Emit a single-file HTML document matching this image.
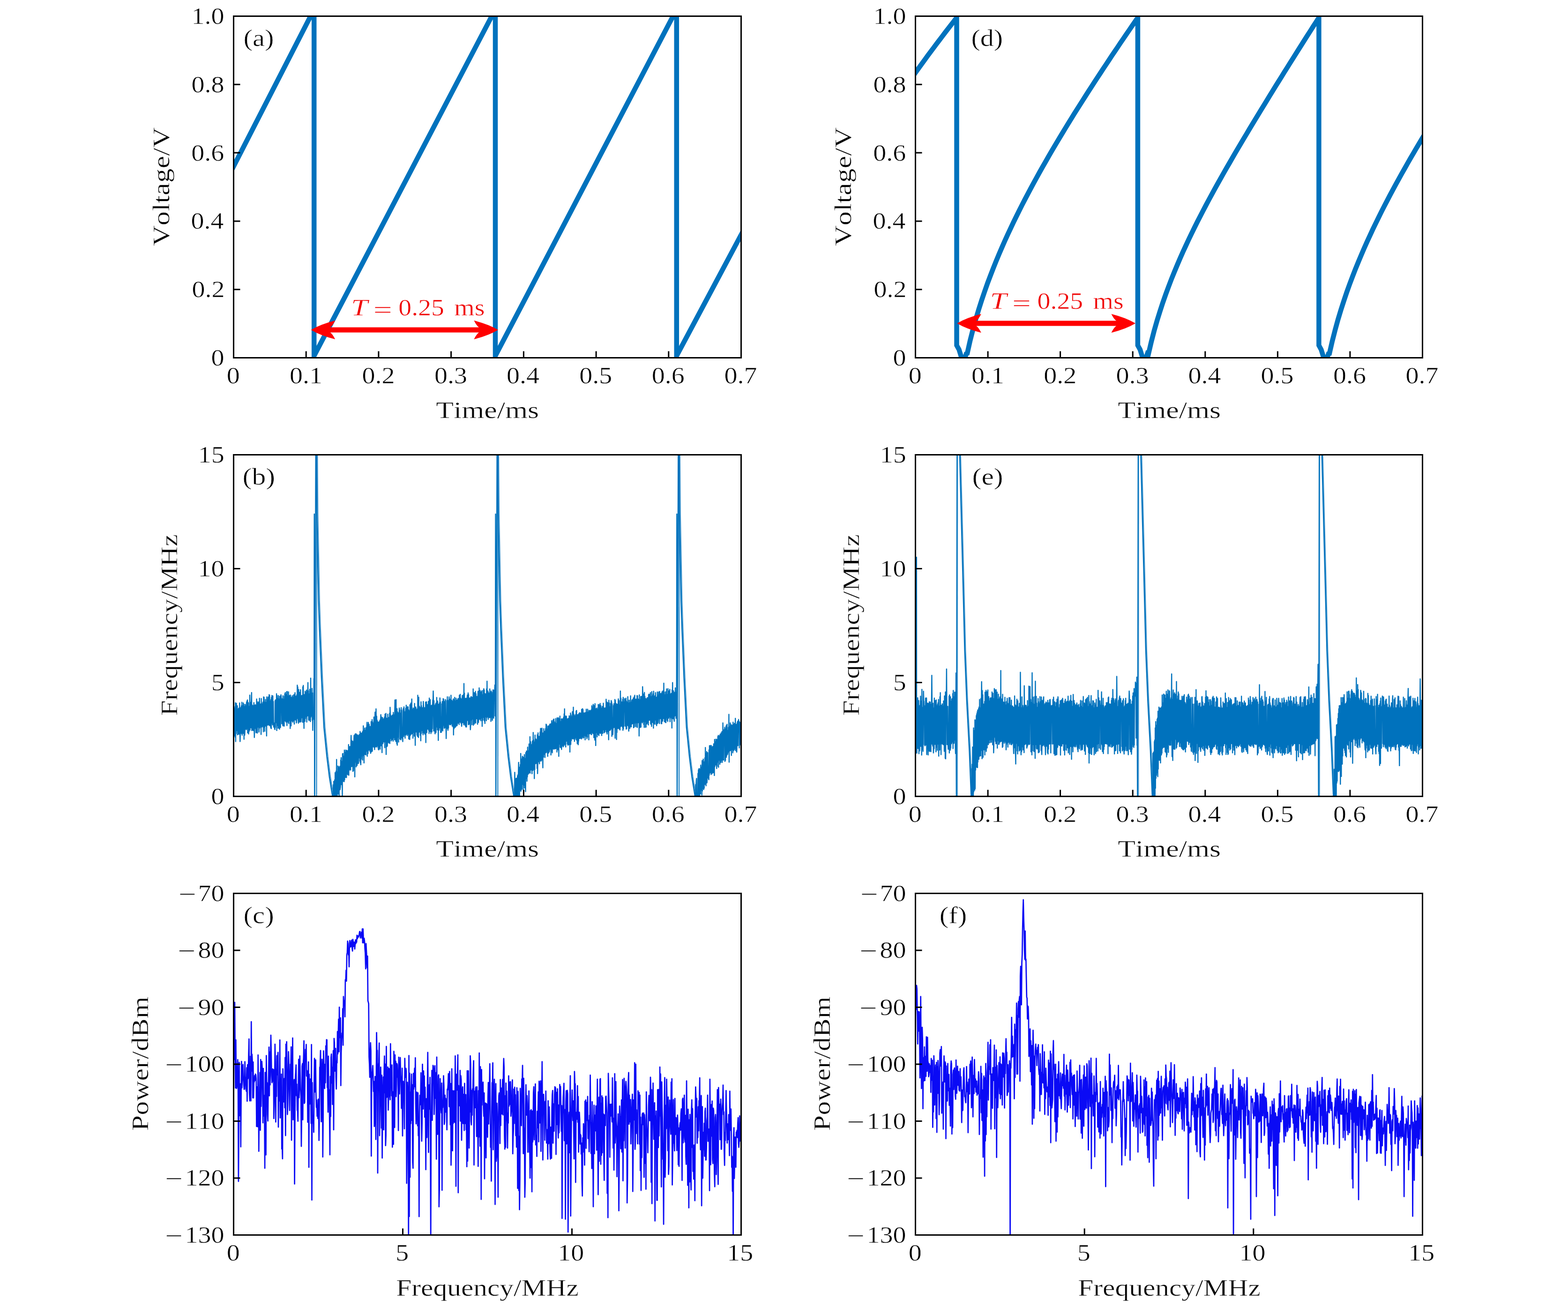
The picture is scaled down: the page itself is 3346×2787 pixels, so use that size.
<!DOCTYPE html><html><head><meta charset="utf-8"><title>Figure</title><style>
html,body{margin:0;padding:0;background:#fff;overflow:hidden;width:3346px;height:2787px;}
svg{display:block;}
text{font-family:'Liberation Serif', 'DejaVu Serif', serif;font-kerning:none;stroke:#fff;stroke-width:0.6px;paint-order:fill stroke;}
</style></head><body>
<svg width="3346" height="2787" viewBox="0 0 3346 2787">
<rect width="3346" height="2787" fill="#fff"/>
<defs><clipPath id="c00"><rect x="498.5" y="34.5" width="1083" height="729"/></clipPath><clipPath id="c01"><rect x="498.5" y="970.5" width="1083" height="729"/></clipPath><clipPath id="c02"><rect x="498.5" y="1906.5" width="1083" height="729"/></clipPath><clipPath id="c10"><rect x="1953.5" y="34.5" width="1082" height="729"/></clipPath><clipPath id="c11"><rect x="1953.5" y="970.5" width="1082" height="729"/></clipPath><clipPath id="c12"><rect x="1953.5" y="1906.5" width="1082" height="729"/></clipPath></defs>
<polyline points="483,385.2 670.2,19.9 670.2,-2 670.2,759.4 670.2,759.4 1057,19.9 1057,-2 1057,759.4 1057,759.4 1443.8,19.9 1443.8,-2 1443.8,759.4 1443.8,759.4 1612.4,443.2" fill="none" stroke="#0072BD" stroke-width="10.5" stroke-linejoin="miter" stroke-miterlimit="20" clip-path="url(#c00)"/>
<polyline points="1924.3,197.1 1930.5,188 1936.7,179.1 1942.8,170.2 1949,161.4 1955.2,152.7 1961.3,144.1 1967.5,135.6 1973.7,127.1 1979.8,118.7 1986,110.3 1992.2,102.1 1998.3,93.8 2004.5,85.7 2010.7,77.6 2016.8,69.5 2023,61.5 2029.2,53.5 2035.3,45.6 2041.5,37.7 2041.5,-2 2041.5,737 2046.5,746 2055.4,775 2062,755 2064.1,753.9 2070.2,726.7 2076.4,702.4 2082.6,680.2 2088.7,659.7 2094.9,640.4 2101.1,622.1 2107.2,604.8 2113.4,588.3 2119.6,572.4 2125.7,557.1 2131.9,542.3 2138.1,527.9 2144.2,514 2150.4,500.4 2156.6,487.2 2162.7,474.2 2168.9,461.6 2175.1,449.2 2181.2,437 2187.4,425 2193.6,413.3 2199.7,401.7 2205.9,390.3 2212.1,379 2218.2,367.9 2224.4,356.9 2230.6,346.1 2236.7,335.3 2242.9,324.7 2249.1,314.2 2255.2,303.8 2261.4,293.5 2267.6,283.2 2273.7,273.1 2279.9,263 2286.1,253 2292.2,243.1 2298.4,233.3 2304.6,223.5 2310.8,213.7 2316.9,204.1 2323.1,194.4 2329.3,184.9 2335.4,175.4 2341.6,165.9 2347.8,156.5 2353.9,147.1 2360.1,137.8 2366.3,128.5 2372.4,119.2 2378.6,110 2384.8,100.9 2390.9,91.7 2397.1,82.6 2403.3,73.6 2409.4,64.6 2415.6,55.6 2421.8,46.6 2427.9,37.7 2427.9,-2 2427.9,737 2432.9,746 2441.8,775 2448.4,755 2450.5,756.3 2456.7,729.8 2462.8,706.1 2469,684.5 2475.2,664.6 2481.3,645.9 2487.5,628.3 2493.7,611.5 2499.8,595.5 2506,580.2 2512.2,565.4 2518.3,551.1 2524.5,537.2 2530.7,523.7 2536.8,510.6 2543,497.7 2549.2,485.2 2555.3,472.9 2561.5,460.8 2567.7,448.9 2573.8,437.2 2580,425.6 2586.2,414.3 2592.3,403 2598.5,391.9 2604.7,380.9 2610.8,370 2617,359.2 2623.2,348.5 2629.3,337.8 2635.5,327.2 2641.7,316.7 2647.8,306.3 2654,295.9 2660.2,285.6 2666.3,275.3 2672.5,265 2678.7,254.8 2684.8,244.7 2691,234.5 2697.2,224.4 2703.3,214.4 2709.5,204.3 2715.7,194.3 2721.8,184.3 2728,174.4 2734.2,164.4 2740.3,154.5 2746.5,144.7 2752.7,134.8 2758.9,125 2765,115.2 2771.2,105.4 2777.4,95.6 2783.5,85.9 2789.7,76.2 2795.9,66.5 2802,56.9 2808.2,47.3 2814.4,37.7 2814.4,-2 2814.4,737 2819.3,746 2828.3,775 2834.9,755 2836.9,754.4 2843.1,727.4 2849.3,703.3 2855.4,681.2 2861.6,660.7 2867.8,641.6 2873.9,623.5 2880.1,606.3 2886.3,589.9 2892.4,574.1 2898.6,558.9 2904.8,544.2 2910.9,530 2917.1,516.1 2923.3,502.7 2929.4,489.5 2935.6,476.7 2941.8,464.1 2947.9,451.7 2954.1,439.6 2960.3,427.7 2966.4,416 2972.6,404.5 2978.8,393.1 2984.9,381.9 2991.1,370.8 2997.3,359.8 3003.4,349 3009.6,338.2 3015.8,327.6 3021.9,317.1 3028.1,306.7 3034.3,296.3 3040.4,286.1 3046.6,275.9 3052.8,265.8 3058.9,255.7 3065.1,245.7" fill="none" stroke="#0072BD" stroke-width="10.5" stroke-linejoin="miter" stroke-miterlimit="20" clip-path="url(#c10)"/>
<polyline points="498.5,1508.9 499,1567.6 499.5,1514.1 500,1563.4 500.5,1512.2 501,1570.3 501.5,1508.1 501.9,1573 502.4,1499.8 502.9,1582.4 503.4,1512.1 503.9,1565.3 504.4,1500.9 504.9,1513.3 505.4,1513.1 505.9,1559.1 506.4,1506.1 506.9,1568 507.4,1513.2 507.9,1558.6 508.3,1567 508.8,1562.7 509.3,1511.7 509.8,1563.2 510.3,1510.7 510.8,1566.5 511.3,1500.2 511.8,1557.7 512.3,1582.4 512.8,1566.3 513.3,1510.7 513.8,1564.6 514.3,1509.4 514.8,1558.3 515.2,1506.3 515.7,1565.5 516.2,1498.6 516.7,1568.7 517.2,1510.7 517.7,1563.8 518.2,1505.9 518.7,1564.9 519.2,1500.2 519.7,1556.1 520.2,1502.9 520.7,1577.6 521.2,1507.7 521.6,1555.5 522.1,1568.9 522.6,1560.5 523.1,1503.1 523.6,1506.7 524.1,1507.7 524.6,1555.6 525.1,1508.3 525.6,1557 526.1,1498.5 526.6,1554.6 527.1,1495.7 527.6,1554.1 528,1493.7 528.5,1563.9 529,1498.4 529.5,1563 530,1499.9 530.5,1566.3 531,1507.5 531.5,1561.3 532,1507.6 532.5,1555 533,1483.4 533.5,1557.8 534,1503.4 534.5,1552.6 534.9,1499 535.4,1553 535.9,1502.8 536.4,1492.2 536.9,1478 537.4,1558.9 537.9,1504.2 538.4,1557.9 538.9,1506 539.4,1551.7 539.9,1551.7 540.4,1558.9 540.9,1505.1 541.3,1551.7 541.8,1499.4 542.3,1552.6 542.8,1573.7 543.3,1551.1 543.8,1504.9 544.3,1554.4 544.8,1504 545.3,1550.7 545.8,1504.6 546.3,1563.6 546.8,1554.9 547.3,1556.8 547.7,1491.7 548.2,1563.6 548.7,1497.2 549.2,1564.2 549.7,1500 550.2,1551.7 550.7,1503.2 551.2,1551.6 551.7,1498 552.2,1550.6 552.7,1562.2 553.2,1548.8 553.7,1490.3 554.2,1553.3 554.6,1550.2 555.1,1549 555.6,1502.4 556.1,1548.2 556.6,1502.4 557.1,1567.3 557.6,1490.7 558.1,1547.8 558.6,1502 559.1,1551.2 559.6,1549 560.1,1549.2 560.6,1501.5 561,1498.5 561.5,1499.1 562,1561.6 562.5,1487.2 563,1549 563.5,1488 564,1551.5 564.5,1500.3 565,1560.6 565.5,1498.2 566,1549.6 566.5,1492.8 567,1546.5 567.4,1549.2 567.9,1546.4 568.4,1499 568.9,1570.4 569.4,1487.1 569.9,1493.2 570.4,1497.2 570.9,1497.7 571.4,1547.4 571.9,1545 572.4,1487.4 572.9,1546.6 573.4,1495.3 573.9,1544.5 574.3,1482.5 574.8,1548.1 575.3,1483.5 575.8,1544.1 576.3,1497.3 576.8,1549.4 577.3,1495.6 577.8,1553.3 578.3,1492.6 578.8,1554.7 579.3,1488.1 579.8,1543.1 580.3,1484.1 580.7,1543.2 581.2,1495.5 581.7,1547.1 582.2,1485.2 582.7,1543.9 583.2,1496.9 583.7,1542.5 584.2,1551.8 584.7,1542.7 585.2,1548.8 585.7,1549 586.2,1555.7 586.7,1556.8 587.1,1495.2 587.6,1552.3 588.1,1493.5 588.6,1542 589.1,1493.9 589.6,1541.7 590.1,1480.4 590.6,1558.9 591.1,1484.3 591.6,1548.2 592.1,1490.3 592.6,1541.2 593.1,1493.3 593.6,1553.9 594,1484.5 594.5,1540.3 595,1491.6 595.5,1553.5 596,1494.3 596.5,1556 597,1486 597.5,1492.9 598,1491.3 598.5,1552.4 599,1488 599.5,1482.6 600,1486.1 600.4,1492.6 600.9,1492.9 601.4,1544.4 601.9,1491.5 602.4,1492.9 602.9,1492.8 603.4,1548.2 603.9,1484.8 604.4,1549.1 604.9,1492.5 605.4,1543.3 605.9,1492 606.4,1549.6 606.8,1486.2 607.3,1492 607.8,1480.5 608.3,1538.2 608.8,1478 609.3,1538.8 609.8,1482.3 610.3,1540.8 610.8,1487.9 611.3,1538.1 611.8,1476.1 612.3,1548.2 612.8,1475.8 613.3,1536.4 613.7,1485.1 614.2,1539.9 614.7,1489.2 615.2,1541.7 615.7,1476.4 616.2,1544.1 616.7,1483.8 617.2,1537.5 617.7,1484.8 618.2,1535.3 618.7,1488.7 619.2,1554.5 619.7,1483.1 620.1,1535.2 620.6,1487.5 621.1,1549 621.6,1488.4 622.1,1534.9 622.6,1538.3 623.1,1536.4 623.6,1484.6 624.1,1534.2 624.6,1541 625.1,1536.4 625.6,1488.2 626.1,1537.9 626.5,1482.9 627,1535 627.5,1534.3 628,1545.2 628.5,1481.6 629,1534.6 629.5,1478.3 630,1535.4 630.5,1536.3 631,1533.1 631.5,1485.8 632,1534.6 632.5,1542.7 633,1533.1 633.4,1482.7 633.9,1533.1 634.4,1462.1 634.9,1532.3 635.4,1466 635.9,1532.8 636.4,1539.3 636.9,1543.3 637.4,1471.4 637.9,1538.6 638.4,1485.8 638.9,1539.5 639.4,1477.5 639.8,1541.1 640.3,1539.1 640.8,1531.1 641.3,1472 641.8,1531.6 642.3,1540.4 642.8,1530.6 643.3,1484.7 643.8,1531.4 644.3,1484.5 644.8,1531.5 645.3,1484 645.8,1541.3 646.2,1465.6 646.7,1541.1 647.2,1462.8 647.7,1530.3 648.2,1529.3 648.7,1554.2 649.2,1482.5 649.7,1530.2 650.2,1482.2 650.7,1539.4 651.2,1475.3 651.7,1533.6 652.2,1480.3 652.7,1529.3 653.1,1477.5 653.6,1529.3 654.1,1472.7 654.6,1540.8 655.1,1478 655.6,1527.9 656.1,1475.1 656.6,1480.6 657.1,1456.7 657.6,1527.5 658.1,1474.3 658.6,1535.9 659.1,1481.6 659.5,1537.6 660,1480.7 660.5,1536.2 661,1470.9 661.5,1531.3 662,1475.6 662.5,1539.7 663,1447.1 663.5,1530.3 664,1478.6 664.5,1526.1 665,1480.3 665.5,1527.7 665.9,1469.2 666.4,1536.7 666.9,1478.6 667.4,1558.5 667.9,1530.6 668.4,1535.8 668.9,1534.2 669.4,1526.6 669.9,1448.2 670.2,1502.2 670.7,1096.9 671.3,1748.1 674.6,727.5 674.9,727.5 675.1,970.5 676.1,1096.9 679.6,1281.5 681.6,1339.9 685.9,1445.8 691.2,1551.8 697.5,1614.9 702.8,1657.7 709.2,1697.6 710.6,1714.1 710.8,1727.4 711.3,1674.6 711.8,1720 712.2,1667.4 712.7,1721.2 713.2,1667.8 713.7,1722.1 714.2,1664.1 714.7,1724.1 715.2,1648.8 715.7,1708.5 716.2,1659.6 716.7,1709.2 717.2,1645.4 717.7,1704.9 718.2,1620.8 718.6,1701.1 719.1,1646.9 719.6,1697.9 720.1,1648.5 720.6,1693.5 721.1,1634.6 721.6,1693.9 722.1,1636 722.6,1694.8 723.1,1640.6 723.6,1704.8 724.1,1638.3 724.6,1682.9 725,1635.5 725.5,1685.4 726,1681.7 726.5,1679 727,1622.2 727.5,1629.4 728,1617 728.5,1674.2 729,1626.6 729.5,1672.3 730,1624.6 730.5,1698.9 731,1608.6 731.5,1667.8 731.9,1608 732.4,1666.9 732.9,1618.9 733.4,1616.1 733.9,1613.5 734.4,1668 734.9,1600.7 735.4,1664 735.9,1607.7 736.4,1605.2 736.9,1610.9 737.4,1658.9 737.9,1600.8 738.3,1654.8 738.8,1607.5 739.3,1659.2 739.8,1601.4 740.3,1604.6 740.8,1651.7 741.3,1649.7 741.8,1602.4 742.3,1653.2 742.8,1601.2 743.3,1647.5 743.8,1589 744.3,1654.3 744.7,1597.4 745.2,1643.9 745.7,1595.4 746.2,1593.3 746.7,1594.4 747.2,1642 747.7,1592.9 748.2,1643.3 748.7,1589.8 749.2,1569.5 749.7,1590.6 750.2,1635.7 750.7,1580.8 751.2,1635.2 751.6,1587.8 752.1,1634.8 752.6,1581.7 753.1,1646 753.6,1584.6 754.1,1644.9 754.6,1632.1 755.1,1583.4 755.6,1569.5 756.1,1627.9 756.6,1581.7 757.1,1657.8 757.6,1566.6 758,1625.5 758.5,1578.9 759,1626.4 759.5,1565.6 760,1636.4 760.5,1568.1 761,1624.4 761.5,1567.6 762,1633.5 762.5,1568.3 763,1629.8 763.5,1621 764,1618.8 764.4,1569.7 764.9,1629 765.4,1571.3 765.9,1617 766.4,1567.7 766.9,1617.2 767.4,1569.8 767.9,1624.4 768.4,1560.9 768.9,1628 769.4,1567.9 769.9,1631.9 770.4,1564.2 770.9,1620.1 771.3,1612.6 771.8,1611.3 772.3,1564.9 772.8,1612.4 773.3,1562.4 773.8,1622 774.3,1560.3 774.8,1611.6 775.3,1549 775.8,1612 776.3,1561.7 776.8,1628.1 777.3,1558 777.7,1606.8 778.2,1553.8 778.7,1609.8 779.2,1558.1 779.7,1604.4 780.2,1605.4 780.7,1611 781.2,1553 781.7,1603.1 782.2,1557 782.7,1550.6 783.2,1541.5 783.7,1613.8 784.1,1546.5 784.6,1600.7 785.1,1608.4 785.6,1601.1 786.1,1541.7 786.6,1601 787.1,1551.3 787.6,1545.7 788.1,1552.7 788.6,1600.5 789.1,1551.7 789.6,1603.5 790.1,1550.4 790.6,1599 791,1607.6 791.5,1600.3 792,1540 792.5,1604.3 793,1548.6 793.5,1603.2 794,1535.8 794.5,1603.1 795,1540.4 795.5,1594 796,1543.8 796.5,1593.1 797,1543.3 797.4,1592.5 797.9,1530.2 798.4,1595.1 798.9,1543.5 799.4,1599.5 799.9,1540.6 800.4,1519.8 800.9,1538.6 801.4,1594 801.9,1542.2 802.4,1512.8 802.9,1537.6 803.4,1592.5 803.8,1528.5 804.3,1594.3 804.8,1537 805.3,1591.2 805.8,1540.1 806.3,1590.4 806.8,1540.7 807.3,1599.1 807.8,1541.2 808.3,1600.2 808.8,1593.7 809.3,1586.6 809.8,1540.1 810.3,1538.5 810.7,1537.4 811.2,1598.5 811.7,1535 812.2,1535 812.7,1525.1 813.2,1591.3 813.7,1529.6 814.2,1584.7 814.7,1533.4 815.2,1606.1 815.7,1537 816.2,1531.2 816.7,1536.6 817.1,1586.8 817.6,1534.6 818.1,1582.6 818.6,1536.3 819.1,1583.1 819.6,1533 820.1,1583.4 820.6,1530 821.1,1595.4 821.6,1524.1 822.1,1582.8 822.6,1526.7 823.1,1580.6 823.5,1522.5 824,1609.9 824.5,1532.3 825,1589.1 825.5,1593.4 826,1533.3 826.5,1592.2 827,1578.4 827.5,1524.1 828,1580 828.5,1531.5 829,1582.5 829.5,1585.4 830,1579.2 830.4,1530.7 830.9,1577.1 831.4,1522.2 831.9,1586.5 832.4,1509.4 832.9,1526.8 833.4,1525.1 833.9,1575.9 834.4,1528.8 834.9,1580.9 835.4,1527.9 835.9,1575.3 836.4,1529.4 836.8,1578.4 837.3,1526 837.8,1575.3 838.3,1528.7 838.8,1581.5 839.3,1520.5 839.8,1573.8 840.3,1527.3 840.8,1573.7 841.3,1525.2 841.8,1578.5 842.3,1521.3 842.8,1493.7 843.2,1522.6 843.7,1579.1 844.2,1522.9 844.7,1582.3 845.2,1493.1 845.7,1577 846.2,1524.4 846.7,1587.1 847.2,1512.4 847.7,1590.2 848.2,1518.9 848.7,1573.4 849.2,1524.4 849.7,1572.2 850.1,1521.4 850.6,1583.6 851.1,1524 851.6,1523.2 852.1,1511 852.6,1521 853.1,1514.9 853.6,1577.2 854.1,1521.8 854.6,1569.3 855.1,1523.4 855.6,1578.7 856.1,1510.3 856.5,1569.7 857,1515.2 857.5,1572.1 858,1575.1 858.5,1570.4 859,1576.4 859.5,1582.6 860,1518.2 860.5,1512.1 861,1520.8 861.5,1571.5 862,1508.5 862.5,1520.2 862.9,1521 863.4,1567.9 863.9,1519.2 864.4,1575.2 864.9,1520.1 865.4,1519.4 865.9,1511.1 866.4,1568.2 866.9,1505 867.4,1565.5 867.9,1519.6 868.4,1565.9 868.9,1509.4 869.3,1569.6 869.8,1508.1 870.3,1566.3 870.8,1508.7 871.3,1564.4 871.8,1514.6 872.3,1576.9 872.8,1565.1 873.3,1564.2 873.8,1516.7 874.3,1578 874.8,1503.9 875.3,1570.1 875.8,1503.3 876.2,1564.3 876.7,1500.4 877.2,1567.4 877.7,1516.5 878.2,1562.9 878.7,1491.7 879.2,1565.6 879.7,1513.9 880.2,1564.1 880.7,1515.8 881.2,1575.3 881.7,1510.9 882.2,1561.9 882.6,1512.5 883.1,1562.8 883.6,1513.5 884.1,1570.9 884.6,1501.2 885.1,1564.9 885.6,1514.8 886.1,1590.6 886.6,1515 887.1,1508.8 887.6,1511.8 888.1,1561.9 888.6,1514.5 889,1561.1 889.5,1559.9 890,1568.9 890.5,1512.6 891,1571.6 891.5,1483.6 892,1568.3 892.5,1498.7 893,1573.8 893.5,1487.9 894,1562.6 894.5,1562.1 895,1507.4 895.5,1509.9 895.9,1559.3 896.4,1509.9 896.9,1569.3 897.4,1512 897.9,1580.8 898.4,1497.6 898.9,1565.7 899.4,1506.1 899.9,1559.1 900.4,1510 900.9,1559.1 901.4,1511.6 901.9,1563.9 902.3,1510.4 902.8,1568.1 903.3,1496.9 903.8,1506.2 904.3,1509.6 904.8,1563.4 905.3,1510.2 905.8,1565.1 906.3,1564.6 906.8,1567.1 907.3,1510.2 907.8,1559.2 908.3,1498.2 908.7,1584.6 909.2,1506.1 909.7,1557.2 910.2,1497.8 910.7,1563.4 911.2,1504.9 911.7,1555.5 912.2,1503.6 912.7,1555.9 913.2,1508.5 913.7,1554.4 914.2,1496.7 914.7,1558.4 915.2,1505.3 915.6,1565.2 916.1,1489.7 916.6,1560.7 917.1,1508 917.6,1561.1 918.1,1493.2 918.6,1554.9 919.1,1507.3 919.6,1565.4 920.1,1505.6 920.6,1556.9 921.1,1552.8 921.6,1561.7 922,1504.6 922.5,1554.9 923,1505.2 923.5,1493.9 924,1496.2 924.5,1474.8 925,1504.5 925.5,1559.8 926,1495.3 926.5,1551.8 927,1505.9 927.5,1556.3 928,1562.1 928.4,1566 928.9,1503.8 929.4,1553.5 929.9,1501.3 930.4,1563.1 930.9,1499.9 931.4,1551.3 931.9,1488.4 932.4,1551 932.9,1498.6 933.4,1557.6 933.9,1496.3 934.4,1554.7 934.9,1503.3 935.3,1579.9 935.8,1502.9 936.3,1550.8 936.8,1558.2 937.3,1549.3 937.8,1499.8 938.3,1553 938.8,1489.4 939.3,1548.9 939.8,1498.1 940.3,1563 940.8,1550.2 941.3,1556 941.7,1562.8 942.2,1556.5 942.7,1502 943.2,1548.8 943.7,1497.3 944.2,1547.7 944.7,1559.7 945.2,1550.3 945.7,1491 946.2,1547.4 946.7,1491.9 947.2,1498.1 947.7,1547.5 948.1,1554.1 948.6,1497.4 949.1,1553.4 949.6,1499.1 950.1,1498.3 950.6,1492.9 951.1,1551.5 951.6,1547.5 952.1,1576 952.6,1552 953.1,1546.2 953.6,1495.1 954.1,1545.7 954.6,1487 955,1554.8 955.5,1494.3 956,1558.3 956.5,1499.2 957,1553.7 957.5,1497.8 958,1495.4 958.5,1487.2 959,1545.3 959.5,1497.8 960,1546.4 960.5,1492.2 961,1495.2 961.4,1491.8 961.9,1546.3 962.4,1483.6 962.9,1544 963.4,1494.5 963.9,1543.7 964.4,1494.4 964.9,1549.4 965.4,1496.6 965.9,1544.3 966.4,1497.6 966.9,1551.5 967.4,1491.4 967.8,1568.3 968.3,1497.1 968.8,1555.2 969.3,1493.5 969.8,1553.1 970.3,1488.1 970.8,1552.1 971.3,1495.5 971.8,1549.2 972.3,1551.3 972.8,1545.4 973.3,1490.3 973.8,1546.6 974.3,1494.3 974.7,1548.8 975.2,1495.7 975.7,1547.6 976.2,1493.6 976.7,1543.5 977.2,1491 977.7,1541.2 978.2,1495.2 978.7,1543 979.2,1490.4 979.7,1546.1 980.2,1483.7 980.7,1494.6 981.1,1494 981.6,1540.9 982.1,1481.8 982.6,1540.9 983.1,1489.7 983.6,1543.2 984.1,1491.8 984.6,1544.2 985.1,1550 985.6,1540.4 986.1,1492.7 986.6,1484.2 987.1,1492.1 987.5,1542 988,1491.7 988.5,1541 989,1482.1 989.5,1546.5 990,1458.8 990.5,1538.6 991,1479.1 991.5,1538.3 992,1544.6 992.5,1548.1 993,1490.5 993.5,1543 994,1551.2 994.4,1546.5 994.9,1490.1 995.4,1551.4 995.9,1538.8 996.4,1537.1 996.9,1487.2 997.4,1483.1 997.9,1537.3 998.4,1536.6 998.9,1478.7 999.4,1546.3 999.9,1482.3 1000.4,1546 1000.8,1489.6 1001.3,1544.7 1001.8,1489.8 1002.3,1536 1002.8,1489.9 1003.3,1542.1 1003.8,1557.3 1004.3,1547.7 1004.8,1487.1 1005.3,1489.6 1005.8,1486.6 1006.3,1536.4 1006.8,1489 1007.2,1546.6 1007.7,1489.2 1008.2,1488 1008.7,1488.9 1009.2,1534.5 1009.7,1470.3 1010.2,1547.6 1010.7,1485.5 1011.2,1535.3 1011.7,1478.1 1012.2,1544.9 1012.7,1488.2 1013.2,1533.9 1013.7,1478.6 1014.1,1541.4 1014.6,1475.5 1015.1,1542.9 1015.6,1480.4 1016.1,1533.8 1016.6,1487.2 1017.1,1486.2 1017.6,1487.2 1018.1,1534.1 1018.6,1486.4 1019.1,1545.6 1019.6,1486.4 1020.1,1475.4 1020.5,1475.1 1021,1541.5 1021.5,1476.8 1022,1536.3 1022.5,1467.9 1023,1532.1 1023.5,1531.7 1024,1534.2 1024.5,1473.3 1025,1535 1025.5,1483 1026,1538 1026.5,1476.5 1026.9,1532.3 1027.4,1483.4 1027.9,1531.9 1028.4,1474 1028.9,1549.9 1029.4,1484.9 1029.9,1537.5 1030.4,1482.5 1030.9,1530.9 1031.4,1472.6 1031.9,1530.9 1032.4,1469.7 1032.9,1536.6 1033.4,1472.4 1033.8,1538.8 1034.3,1483.9 1034.8,1543.7 1035.3,1480.3 1035.8,1529.3 1036.3,1482.7 1036.8,1529.8 1037.3,1481.2 1037.8,1537.9 1038.3,1470.3 1038.8,1531.1 1039.3,1453.7 1039.8,1529.2 1040.2,1474.8 1040.7,1481.5 1041.2,1474.6 1041.7,1535 1042.2,1477.7 1042.7,1529.9 1043.2,1481.1 1043.7,1530.9 1044.2,1479.6 1044.7,1531.6 1045.2,1470.3 1045.7,1530.9 1046.2,1481.6 1046.6,1529.7 1047.1,1477.3 1047.6,1539.4 1048.1,1474.8 1048.6,1530.4 1049.1,1477.3 1049.6,1526.6 1050.1,1526.5 1050.6,1537.3 1051.1,1529.1 1051.6,1479.5 1052.1,1472.1 1052.6,1528.3 1053.1,1479.2 1053.5,1532.5 1054,1479.3 1054.5,1472.7 1055,1479.2 1055.5,1474.4 1056,1461.6 1056.5,1527.8 1057,1475.4 1057,1502.2 1057.5,1096.9 1058.1,1748.1 1061.4,727.5 1061.7,727.5 1061.9,970.5 1062.9,1096.9 1066.4,1281.5 1068.4,1339.9 1072.7,1445.8 1078,1551.8 1084.3,1614.9 1089.6,1657.7 1096,1697.6 1097.4,1714.1 1097.9,1732 1098.4,1648.3 1098.9,1669.3 1099.3,1718.3 1099.8,1722.3 1100.3,1666.8 1100.8,1662.7 1101.3,1661.3 1101.8,1709.6 1102.3,1660.7 1102.8,1713.8 1103.3,1714.1 1103.8,1713.2 1104.3,1655.6 1104.8,1702.9 1105.3,1653.1 1105.7,1697.4 1106.2,1649.7 1106.7,1627 1107.2,1693.3 1107.7,1705.1 1108.2,1645.1 1108.7,1703 1109.2,1637 1109.7,1687.1 1110.2,1631.7 1110.7,1686.6 1111.2,1608 1111.7,1688.4 1112.2,1631.1 1112.6,1684.9 1113.1,1620 1113.6,1683.8 1114.1,1626.5 1114.6,1615.4 1115.1,1613.9 1115.6,1673.8 1116.1,1621.6 1116.6,1686.1 1117.1,1616.2 1117.6,1669.3 1118.1,1617 1118.6,1675.6 1119,1610.4 1119.5,1681.3 1120,1618.4 1120.5,1663.7 1121,1664.1 1121.5,1689.3 1122,1606.1 1122.5,1661.5 1123,1607.8 1123.5,1602.6 1124,1604.9 1124.5,1667.1 1125,1605.3 1125.4,1657.8 1125.9,1594.5 1126.4,1652.8 1126.9,1604.7 1127.4,1651.2 1127.9,1602.1 1128.4,1650.3 1128.9,1587.8 1129.4,1647 1129.9,1648.3 1130.4,1646.6 1130.9,1572.2 1131.4,1649.8 1131.9,1597.6 1132.3,1582.6 1132.8,1595.4 1133.3,1643.1 1133.8,1589.2 1134.3,1641.3 1134.8,1590.8 1135.3,1651 1135.8,1586.9 1136.3,1581.3 1136.8,1587.5 1137.3,1643.7 1137.8,1563.1 1138.3,1641.4 1138.7,1578.9 1139.2,1641.2 1139.7,1584.1 1140.2,1661.4 1140.7,1583.1 1141.2,1642 1141.7,1568.8 1142.2,1629.9 1142.7,1582.2 1143.2,1628 1143.7,1577.1 1144.2,1629.1 1144.7,1579.7 1145.1,1628.9 1145.6,1579 1146.1,1639.7 1146.6,1568.1 1147.1,1650.8 1147.6,1628.9 1148.1,1563.9 1148.6,1575.6 1149.1,1575.1 1149.6,1572.5 1150.1,1626 1150.6,1571.4 1151.1,1629.9 1151.6,1619.4 1152,1622.3 1152.5,1562.2 1153,1616.9 1153.5,1554.4 1154,1624 1154.5,1555.3 1155,1623.8 1155.5,1558.1 1156,1618.1 1156.5,1553.9 1157,1621.4 1157.5,1566.6 1158,1616.7 1158.4,1638.4 1158.9,1564.1 1159.4,1612.2 1159.9,1615.7 1160.4,1555.1 1160.9,1609.1 1161.4,1609.6 1161.9,1609.1 1162.4,1560.7 1162.9,1616.4 1163.4,1561.5 1163.9,1560.7 1164.4,1554.6 1164.8,1606.3 1165.3,1545.4 1165.8,1558.7 1166.3,1546.8 1166.8,1558.1 1167.3,1604.4 1167.8,1606.6 1168.3,1556.3 1168.8,1613.9 1169.3,1549.8 1169.8,1602.3 1170.3,1551.4 1170.8,1606.8 1171.3,1548.7 1171.7,1601.1 1172.2,1604.3 1172.7,1600.2 1173.2,1545.5 1173.7,1550.1 1174.2,1552.8 1174.7,1598.5 1175.2,1544.8 1175.7,1611 1176.2,1551.6 1176.7,1603.3 1177.2,1538 1177.7,1543.2 1178.1,1550.2 1178.6,1606.4 1179.1,1544.6 1179.6,1598.1 1180.1,1536.9 1180.6,1547.9 1181.1,1535.4 1181.6,1598.5 1182.1,1534.5 1182.6,1598.3 1183.1,1540.3 1183.6,1593 1184.1,1542.6 1184.5,1595.3 1185,1597.9 1185.5,1592.2 1186,1533.5 1186.5,1597 1187,1593.4 1187.5,1592.1 1188,1543.8 1188.5,1604.8 1189,1531.8 1189.5,1532.7 1190,1541.3 1190.5,1600 1191,1539.8 1191.4,1598.9 1191.9,1531.7 1192.4,1613.9 1192.9,1541.3 1193.4,1587.5 1193.9,1534 1194.4,1587.7 1194.9,1528.3 1195.4,1594.5 1195.9,1539.8 1196.4,1595.4 1196.9,1589.4 1197.4,1590.2 1197.8,1534.4 1198.3,1599.2 1198.8,1533.9 1199.3,1593.5 1199.8,1534.9 1200.3,1535 1200.8,1537.9 1201.3,1590.7 1201.8,1533.3 1202.3,1593.6 1202.8,1530.3 1203.3,1587.5 1203.8,1523.5 1204.2,1590.4 1204.7,1512.7 1205.2,1587.8 1205.7,1535.5 1206.2,1582.8 1206.7,1529 1207.2,1594 1207.7,1527.7 1208.2,1529.9 1208.7,1529 1209.2,1581.6 1209.7,1534.2 1210.2,1534.2 1210.7,1587.8 1211.1,1583.7 1211.6,1587 1212.1,1590.4 1212.6,1533.1 1213.1,1580.1 1213.6,1578.8 1214.1,1588.9 1214.6,1527.6 1215.1,1578.8 1215.6,1529 1216.1,1604.7 1216.6,1531.8 1217.1,1581 1217.5,1521.6 1218,1588.6 1218.5,1525.8 1219,1580.5 1219.5,1577 1220,1576 1220.5,1529.1 1221,1575.8 1221.5,1518.8 1222,1575.3 1222.5,1519.4 1223,1577.1 1223.5,1509.2 1223.9,1575.2 1224.4,1523.6 1224.9,1574.5 1225.4,1526 1225.9,1582 1226.4,1528.3 1226.9,1577.4 1227.4,1528 1227.9,1574.2 1228.4,1524.6 1228.9,1573.1 1229.4,1517.4 1229.9,1578.4 1230.3,1516.1 1230.8,1579.8 1231.3,1525.5 1231.8,1586.8 1232.3,1525.5 1232.8,1572.1 1233.3,1525.3 1233.8,1589.2 1234.3,1582.5 1234.8,1580.4 1235.3,1522.7 1235.8,1576 1236.3,1522.1 1236.8,1575.6 1237.2,1521 1237.7,1575.7 1238.2,1575.6 1238.7,1571.1 1239.2,1522.3 1239.7,1570.3 1240.2,1521.7 1240.7,1576.8 1241.2,1513.8 1241.7,1574.8 1242.2,1522.5 1242.7,1568.9 1243.2,1512.5 1243.6,1572.1 1244.1,1514.3 1244.6,1575 1245.1,1521 1245.6,1573.8 1246.1,1522.2 1246.6,1567.9 1247.1,1521.9 1247.6,1569.6 1248.1,1521 1248.6,1578.8 1249.1,1521 1249.6,1567.3 1250,1520.7 1250.5,1570.1 1251,1513.5 1251.5,1571.9 1252,1569.3 1252.5,1576.4 1253,1520 1253.5,1573 1254,1513.4 1254.5,1565.6 1255,1519.5 1255.5,1565.1 1256,1519.4 1256.5,1578.7 1256.9,1516.1 1257.4,1565.4 1257.9,1518.8 1258.4,1565.8 1258.9,1565 1259.4,1516.3 1259.9,1517.9 1260.4,1564.6 1260.9,1518.2 1261.4,1567.4 1261.9,1514.7 1262.4,1567.5 1262.9,1506.2 1263.3,1510.4 1263.8,1517.4 1264.3,1562.8 1264.8,1514.8 1265.3,1565.2 1265.8,1503.3 1266.3,1565 1266.8,1505.3 1267.3,1574 1267.8,1506 1268.3,1512.3 1268.8,1512.4 1269.3,1579.2 1269.7,1501.7 1270.2,1562.9 1270.7,1512.3 1271.2,1590.9 1271.7,1512.8 1272.2,1561.3 1272.7,1514.9 1273.2,1563.3 1273.7,1510.9 1274.2,1572.4 1274.7,1513.9 1275.2,1566 1275.7,1514.1 1276.2,1566.5 1276.6,1503.4 1277.1,1568.3 1277.6,1509.7 1278.1,1569.6 1278.6,1503.9 1279.1,1564.1 1279.6,1505.2 1280.1,1561.7 1280.6,1501.3 1281.1,1564.9 1281.6,1507.8 1282.1,1505.8 1282.6,1511.4 1283,1564.3 1283.5,1511.1 1284,1569.6 1284.5,1512.2 1285,1560.7 1285.5,1507.4 1286,1564.9 1286.5,1511 1287,1557.3 1287.5,1500.8 1288,1557.1 1288.5,1510.4 1289,1563.8 1289.4,1511.2 1289.9,1556.7 1290.4,1562.4 1290.9,1560.6 1291.4,1510.7 1291.9,1556.3 1292.4,1556.9 1292.9,1556 1293.4,1492.1 1293.9,1562 1294.4,1497.8 1294.9,1557.5 1295.4,1566.4 1295.9,1555.4 1296.3,1498.9 1296.8,1555.1 1297.3,1500.5 1297.8,1561.3 1298.3,1508.6 1298.8,1578.6 1299.3,1494.5 1299.8,1558.3 1300.3,1500.3 1300.8,1554.5 1301.3,1558.7 1301.8,1558.4 1302.3,1508.1 1302.7,1557.1 1303.2,1501.3 1303.7,1554.9 1304.2,1495 1304.7,1498.4 1305.2,1498 1305.7,1571.2 1306.2,1502.2 1306.7,1557.7 1307.2,1559.5 1307.7,1567.6 1308.2,1554.8 1308.7,1553.6 1309.1,1505.6 1309.6,1552.3 1310.1,1501.8 1310.6,1552 1311.1,1501.8 1311.6,1552.6 1312.1,1492.7 1312.6,1575.2 1313.1,1494.6 1313.6,1551.4 1314.1,1500.5 1314.6,1555.7 1315.1,1502 1315.6,1578 1316,1502.8 1316.5,1563.1 1317,1502.9 1317.5,1551.6 1318,1504.7 1318.5,1554.6 1319,1504.4 1319.5,1491.4 1320,1499.6 1320.5,1554.6 1321,1495.3 1321.5,1555.6 1322,1504.1 1322.4,1554.2 1322.9,1557.7 1323.4,1549.5 1323.9,1474.6 1324.4,1550.2 1324.9,1489.6 1325.4,1549.2 1325.9,1548.8 1326.4,1549.6 1326.9,1497.9 1327.4,1548.7 1327.9,1501.6 1328.4,1551.7 1328.8,1492.5 1329.3,1558.4 1329.8,1488.3 1330.3,1555.2 1330.8,1498.2 1331.3,1550 1331.8,1499.9 1332.3,1501.8 1332.8,1491 1333.3,1501 1333.8,1496.1 1334.3,1548.9 1334.8,1492.8 1335.3,1550.5 1335.7,1489.9 1336.2,1555.8 1336.7,1496.1 1337.2,1555.1 1337.7,1498.8 1338.2,1499.2 1338.7,1499.9 1339.2,1547.5 1339.7,1486.8 1340.2,1548.8 1340.7,1500.2 1341.2,1547.4 1341.7,1560.2 1342.1,1548.7 1342.6,1494.3 1343.1,1545.9 1343.6,1545.9 1344.1,1554.5 1344.6,1499.4 1345.1,1550.9 1345.6,1484.9 1346.1,1549 1346.6,1498 1347.1,1551.1 1347.6,1498.7 1348.1,1544.2 1348.5,1494.5 1349,1544.7 1349.5,1493 1350,1543.8 1350.5,1497.7 1351,1543.6 1351.5,1489.5 1352,1552.9 1352.5,1490.5 1353,1551.8 1353.5,1486.4 1354,1543 1354.5,1483.8 1355,1542.8 1355.4,1492.3 1355.9,1550.5 1356.4,1492.1 1356.9,1493.1 1357.4,1496.7 1357.9,1542.3 1358.4,1491.7 1358.9,1551.2 1359.4,1484.4 1359.9,1552.3 1360.4,1485 1360.9,1542.6 1361.4,1495.9 1361.8,1493.8 1362.3,1492.1 1362.8,1541.9 1363.3,1494.7 1363.8,1570.5 1364.3,1482.9 1364.8,1545.8 1365.3,1494.3 1365.8,1552.6 1366.3,1493.2 1366.8,1543.1 1367.3,1486.4 1367.8,1551.5 1368.2,1494 1368.7,1540.2 1369.2,1486.2 1369.7,1539.9 1370.2,1491.3 1370.7,1542.5 1371.2,1465.4 1371.7,1483.4 1372.2,1487.3 1372.7,1539.5 1373.2,1481.1 1373.7,1546 1374.2,1487.5 1374.7,1552.2 1375.1,1477.8 1375.6,1539.4 1376.1,1485.9 1376.6,1539.6 1377.1,1490 1377.6,1552.1 1378.1,1492.3 1378.6,1551.5 1379.1,1491.4 1379.6,1541.4 1380.1,1537.8 1380.6,1544.9 1381.1,1489 1381.5,1541.9 1382,1489.8 1382.5,1537.7 1383,1488.6 1383.5,1547 1384,1482.9 1384.5,1481.6 1385,1482.5 1385.5,1536.8 1386,1486.2 1386.5,1536.4 1387,1481.4 1387.5,1536.9 1387.9,1478.1 1388.4,1544.5 1388.9,1490.1 1389.4,1546.1 1389.9,1486.4 1390.4,1550.1 1390.9,1475.9 1391.4,1540.4 1391.9,1486.1 1392.4,1541.6 1392.9,1484.8 1393.4,1540.1 1393.9,1480.6 1394.4,1553.7 1394.8,1475.2 1395.3,1540.7 1395.8,1489 1396.3,1543.8 1396.8,1486.1 1397.3,1545.6 1397.8,1484.2 1398.3,1536.6 1398.8,1478.2 1399.3,1536.2 1399.8,1487.9 1400.3,1545.5 1400.8,1534.4 1401.2,1548.5 1401.7,1487.5 1402.2,1533.2 1402.7,1476.7 1403.2,1544.1 1403.7,1486.3 1404.2,1542.4 1404.7,1532.9 1405.2,1484.2 1405.7,1476.8 1406.2,1532.8 1406.7,1486.7 1407.2,1544 1407.6,1475.6 1408.1,1533.8 1408.6,1486.3 1409.1,1533.2 1409.6,1480.5 1410.1,1533.3 1410.6,1479.9 1411.1,1544.3 1411.6,1483.2 1412.1,1544.2 1412.6,1476.4 1413.1,1536.4 1413.6,1484.3 1414.1,1538.8 1414.5,1474.4 1415,1531 1415.5,1478.3 1416,1533.4 1416.5,1457.9 1417,1530.3 1417.5,1476.7 1418,1540 1418.5,1483.3 1419,1530 1419.5,1482.4 1420,1541.5 1420.5,1476.4 1420.9,1542.1 1421.4,1529.9 1421.9,1531.7 1422.4,1470.1 1422.9,1529.3 1423.4,1481.9 1423.9,1536.9 1424.4,1482 1424.9,1539.6 1425.4,1469.8 1425.9,1528.6 1426.4,1482.2 1426.9,1532.6 1427.3,1474.4 1427.8,1529.6 1428.3,1480.9 1428.8,1528.4 1429.3,1471.3 1429.8,1540 1430.3,1481.8 1430.8,1530.8 1431.3,1481.3 1431.8,1528.7 1432.3,1479.7 1432.8,1533.2 1433.3,1481.4 1433.8,1553.5 1434.2,1472.2 1434.7,1526.8 1435.2,1456.6 1435.7,1533.3 1436.2,1475.8 1436.7,1530 1437.2,1474.3 1437.7,1534.5 1438.2,1534 1438.7,1539.3 1439.2,1477.8 1439.7,1528.3 1440.2,1479.5 1440.6,1525.6 1441.1,1468 1441.6,1526.8 1442.1,1477.3 1442.6,1532.8 1443.1,1478.4 1443.6,1526.4 1443.8,1502.2 1444.3,1096.9 1444.9,1748.1 1448.1,727.5 1448.4,727.5 1448.7,970.5 1449.7,1096.9 1453.2,1281.5 1455.2,1339.9 1459.5,1445.8 1464.8,1551.8 1471.1,1614.9 1476.4,1657.7 1482.8,1697.6 1484.2,1714.1 1484.5,1674.3 1485,1724.6 1485.5,1672.2 1486,1664.1 1486.4,1661.2 1486.9,1723.3 1487.4,1720.1 1487.9,1710.5 1488.4,1711.2 1488.9,1713.7 1489.4,1650.5 1489.9,1705.4 1490.4,1642.9 1490.9,1708.4 1491.4,1640.4 1491.9,1702.9 1492.4,1640.5 1492.9,1703 1493.3,1645.7 1493.8,1641.7 1494.3,1645.9 1494.8,1694.3 1495.3,1632.7 1495.8,1642.7 1496.3,1637.3 1496.8,1686.4 1497.3,1637.4 1497.8,1696.6 1498.3,1623.1 1498.8,1687.7 1499.3,1634.4 1499.7,1682.9 1500.2,1632.5 1500.7,1619.9 1501.2,1625 1501.7,1684.8 1502.2,1626.4 1502.7,1681.8 1503.2,1625.9 1503.7,1670.4 1504.2,1617.3 1504.7,1673.8 1505.2,1595.2 1505.7,1672.7 1506.1,1618.8 1506.6,1676.8 1507.1,1607.7 1507.6,1614.4 1508.1,1603.9 1508.6,1670.5 1509.1,1659.5 1509.6,1659.1 1510.1,1606.2 1510.6,1658.4 1511.1,1660 1511.6,1657 1512.1,1662.6 1512.6,1663.7 1513,1600.2 1513.5,1653.9 1514,1591.2 1514.5,1650 1515,1603.1 1515.5,1648.2 1516,1591.4 1516.5,1646.8 1517,1590.7 1517.5,1652.7 1518,1591.4 1518.5,1645.5 1519,1595.5 1519.4,1650.7 1519.9,1594.8 1520.4,1643.1 1520.9,1592.9 1521.4,1640.6 1521.9,1649.3 1522.4,1640.8 1522.9,1587.4 1523.4,1644.2 1523.9,1589.9 1524.4,1654.9 1524.9,1577.9 1525.4,1636.2 1525.8,1633.3 1526.3,1632.1 1526.8,1582.6 1527.3,1630.9 1527.8,1577.4 1528.3,1632.6 1528.8,1578.2 1529.3,1640 1529.8,1581.9 1530.3,1635.3 1530.8,1577.7 1531.3,1625.9 1531.8,1571.8 1532.3,1626.4 1532.7,1569.4 1533.2,1637.3 1533.7,1577.5 1534.2,1622.4 1534.7,1571.3 1535.2,1570.1 1535.7,1571.8 1536.2,1630.8 1536.7,1567 1537.2,1625.6 1537.7,1570.5 1538.2,1626.9 1538.7,1564.3 1539.1,1617.4 1539.6,1570.6 1540.1,1622.2 1540.6,1561.1 1541.1,1627.1 1541.6,1568.2 1542.1,1621.7 1542.6,1542.7 1543.1,1614.8 1543.6,1565.4 1544.1,1621.9 1544.6,1563.3 1545.1,1557.3 1545.5,1565.5 1546,1558.3 1546.5,1552.1 1547,1624.7 1547.5,1555.4 1548,1622.4 1548.5,1558 1549,1613.9 1549.5,1549.3 1550,1615.9 1550.5,1547.4 1551,1611.9 1551.5,1545.6 1552,1605.5 1552.4,1609.9 1552.9,1606.6 1553.4,1558.8 1553.9,1604.6 1554.4,1552.3 1554.9,1603.2 1555.4,1524.4 1555.9,1626.4 1556.4,1550.8 1556.9,1602.6 1557.4,1555.2 1557.9,1601.9 1558.4,1542.6 1558.8,1600.7 1559.3,1551.1 1559.8,1599.9 1560.3,1546.5 1560.8,1612 1561.3,1552.6 1561.8,1599.9 1562.3,1551.4 1562.8,1547.6 1563.3,1551.6 1563.8,1606.4 1564.3,1541.2 1564.8,1602.4 1565.2,1546 1565.7,1596.1 1566.2,1547.7 1566.7,1600.4 1567.2,1543.7 1567.7,1595.7 1568.2,1544.1 1568.7,1597.4 1569.2,1532.9 1569.7,1601.5 1570.2,1546 1570.7,1593 1571.2,1546 1571.7,1602.3 1572.1,1605 1572.6,1592.1 1573.1,1542.1 1573.6,1591.2 1574.1,1539.1 1574.6,1591.1 1575.1,1541.9 1575.6,1542.5 1576.1,1535.4 1576.6,1543.5 1577.1,1539.5 1577.6,1595.9 1578.1,1540.8 1578.5,1590 1579,1542.5 1579.5,1587.9 1580,1541.6 1580.5,1587.6 1581,1536.3 1581.5,1535.7" fill="none" stroke="#0072BD" stroke-width="2.4" stroke-linejoin="round" stroke-miterlimit="20" clip-path="url(#c01)"/>
<polyline points="1953.5,1494 1954,1597.4 1954.5,1460.7 1955,1589.2 1955.5,1510.6 1955.8,1189.2 1956,1603.1 1956.5,1607.2 1956.9,1496.5 1957.4,1498.6 1957.9,1596.9 1958.4,1489.2 1958.9,1506.8 1959.4,1494.4 1959.9,1597.6 1960.4,1495.2 1960.9,1608.3 1961.4,1510.9 1961.9,1506.8 1962.4,1602.4 1962.8,1587.9 1963.3,1504.9 1963.8,1510.5 1964.3,1485.7 1964.8,1592.6 1965.3,1495.9 1965.8,1587.7 1966.3,1510.8 1966.8,1611.2 1967.3,1471.3 1967.8,1594.4 1968.3,1587.3 1968.8,1599.7 1969.2,1509.7 1969.7,1603.3 1970.2,1510.6 1970.7,1475.1 1971.2,1495.6 1971.7,1496.4 1972.2,1510.7 1972.7,1589.2 1973.2,1510.7 1973.7,1591.4 1974.2,1506.1 1974.7,1586.8 1975.1,1489.8 1975.6,1589.6 1976.1,1507.7 1976.6,1589.3 1977.1,1489.5 1977.6,1610.2 1978.1,1597.5 1978.6,1587.9 1979.1,1500.5 1979.6,1592.3 1980.1,1510.8 1980.6,1611 1981.1,1501.1 1981.5,1586.9 1982,1510.2 1982.5,1602.1 1983,1497.6 1983.5,1603.5 1984,1510.8 1984.5,1589.6 1985,1498.2 1985.5,1602.6 1986,1510.6 1986.5,1603.9 1987,1502.7 1987.5,1587.1 1987.9,1491.4 1988.4,1441.3 1988.9,1504.6 1989.4,1588.6 1989.9,1509.7 1990.4,1591.9 1990.9,1500.6 1991.4,1586.9 1991.9,1606.7 1992.4,1600.2 1992.9,1510.7 1993.4,1597.4 1993.8,1489.8 1994.3,1587.6 1994.8,1505.3 1995.3,1588.2 1995.8,1495.1 1996.3,1588.3 1996.8,1508.7 1997.3,1604.3 1997.8,1493.7 1998.3,1594.7 1998.8,1506 1999.3,1589 1999.8,1508.3 2000.2,1601 2000.7,1502.7 2001.2,1586.9 2001.7,1499.5 2002.2,1587.7 2002.7,1492.7 2003.2,1613.6 2003.7,1506.8 2004.2,1600.8 2004.7,1598.9 2005.2,1600.3 2005.7,1486.9 2006.1,1587.2 2006.6,1478.1 2007.1,1587 2007.6,1507.3 2008.1,1610.2 2008.6,1505.3 2009.1,1587.7 2009.6,1508.9 2010.1,1586.9 2010.6,1502 2011.1,1508.3 2011.6,1510.1 2012.1,1588.5 2012.5,1510 2013,1589 2013.5,1496 2014,1586.8 2014.5,1509.7 2015,1603.3 2015.5,1485.3 2016,1508.7 2016.5,1503.1 2017,1618.3 2017.5,1476.8 2018,1619.2 2018.4,1485.6 2018.9,1508.7 2019.4,1490 2019.9,1427.6 2020.4,1506.6 2020.9,1588.8 2021.4,1507.8 2021.9,1587.1 2022.4,1507.4 2022.9,1588.8 2023.4,1598.9 2023.9,1587.6 2024.4,1585.8 2024.8,1592.4 2025.3,1485.6 2025.8,1606.7 2026.3,1482.9 2026.8,1599.4 2027.3,1499.4 2027.8,1600.7 2028.3,1487 2028.8,1596.4 2029.3,1495.9 2029.8,1587.6 2030.3,1498.3 2030.8,1586.2 2031.2,1491.8 2031.7,1583.2 2032.2,1490.8 2032.7,1582.1 2033.2,1480.1 2033.7,1597.3 2034.2,1473.5 2034.7,1580.2 2035.2,1486.6 2035.7,1586.3 2036.2,1574.9 2036.7,1579.4 2037.1,1476.9 2037.6,1573.8 2038.1,1477.4 2038.6,1593.8 2039.1,1608.1 2039.6,1579.3 2040.1,1436.2 2040.3,1539.1 2041,1748.1 2042.7,727.5 2046.1,727.5 2047.9,970.5 2054.3,1218.4 2058.6,1388.5 2062.9,1495.4 2068.5,1602.3 2072.4,1699.5 2073.3,1714.1 2073.6,1640.4 2074.1,1771.4 2074.5,1630.9 2075,1771.4 2075.5,1594.2 2076,1734.2 2076.5,1597.7 2077,1699.9 2077.5,1553.4 2078,1689.8 2078.5,1681.3 2079,1686.1 2079.5,1559 2080,1686 2080.4,1536.3 2080.9,1682.9 2081.4,1542.2 2081.9,1643.3 2082.4,1536.8 2082.9,1636 2083.4,1527.2 2083.9,1637 2084.4,1523.2 2084.9,1632.1 2085.4,1519 2085.9,1638.1 2086.4,1515.2 2086.8,1625.9 2087.3,1520.1 2087.8,1615.7 2088.3,1511.7 2088.8,1620.2 2089.3,1508.6 2089.8,1614.4 2090.3,1492.6 2090.8,1604 2091.3,1510.4 2091.8,1612.7 2092.3,1510.3 2092.7,1612.9 2093.2,1490.5 2093.7,1601.4 2094.2,1508.4 2094.7,1454.7 2095.2,1506.3 2095.7,1619.1 2096.2,1473.8 2096.7,1601.1 2097.2,1482.6 2097.7,1616 2098.2,1504.5 2098.7,1598.6 2099.1,1502.4 2099.6,1588.6 2100.1,1600.2 2100.6,1587.4 2101.1,1497 2101.6,1610.9 2102.1,1477.2 2102.6,1500.8 2103.1,1484.1 2103.6,1599.7 2104.1,1473.2 2104.6,1603.5 2105,1583.8 2105.5,1581.7 2106,1476.4 2106.5,1596.1 2107,1497.1 2107.5,1580.1 2108,1472.5 2108.5,1581.1 2109,1589.1 2109.5,1496.3 2110,1486.7 2110.5,1585 2111,1496.4 2111.4,1585.3 2111.9,1495.8 2112.4,1576.3 2112.9,1490.5 2113.4,1578.5 2113.9,1489.3 2114.4,1584.2 2114.9,1489.5 2115.4,1583.7 2115.9,1492.2 2116.4,1578.3 2116.9,1476.8 2117.3,1574.6 2117.8,1492.1 2118.3,1589.2 2118.8,1479.4 2119.3,1586.1 2119.8,1490.6 2120.3,1606.5 2120.8,1590.4 2121.3,1573.2 2121.8,1469.5 2122.3,1573 2122.8,1484.3 2123.3,1573.1 2123.7,1472.2 2124.2,1582.1 2124.7,1486.8 2125.2,1586.9 2125.7,1472 2126.2,1587 2126.7,1581.9 2127.2,1483.5 2127.7,1477 2128.2,1596.4 2128.7,1492.3 2129.2,1573.7 2129.7,1580.1 2130.1,1574.9 2130.6,1481.4 2131.1,1588.4 2131.6,1494 2132.1,1587.7 2132.6,1491.2 2133.1,1575 2133.6,1487.4 2134.1,1583.6 2134.6,1497.1 2135.1,1577.9 2135.6,1430.9 2136,1582.1 2136.5,1496.6 2137,1499.4 2137.5,1491.7 2138,1581.7 2138.5,1500.1 2139,1594.7 2139.5,1481.7 2140,1593.2 2140.5,1501 2141,1582.4 2141.5,1498.3 2142,1579 2142.4,1502.3 2142.9,1586 2143.4,1499.1 2143.9,1580.2 2144.4,1488.1 2144.9,1581.8 2145.4,1497.9 2145.9,1585.2 2146.4,1504.1 2146.9,1600.1 2147.4,1587.8 2147.9,1588.1 2148.3,1496.6 2148.8,1584.5 2149.3,1490.1 2149.8,1503 2150.3,1500.5 2150.8,1594.3 2151.3,1501.7 2151.8,1582.9 2152.3,1583.3 2152.8,1583.7 2153.3,1488.8 2153.8,1503.5 2154.3,1585.5 2154.7,1588.2 2155.2,1489 2155.7,1584.1 2156.2,1506.4 2156.7,1505.6 2157.2,1506.9 2157.7,1588.6 2158.2,1494.2 2158.7,1589.2 2159.2,1585.5 2159.7,1587 2160.2,1506.7 2160.6,1585.2 2161.1,1506.9 2161.6,1585.5 2162.1,1509.2 2162.6,1592.8 2163.1,1608.1 2163.6,1585.7 2164.1,1509.5 2164.6,1595.5 2165.1,1485.3 2165.6,1592.1 2166.1,1504 2166.6,1608.8 2167,1607.3 2167.5,1630.2 2168,1505.9 2168.5,1586.3 2169,1510.2 2169.5,1509.3 2170,1492.1 2170.5,1602.2 2171,1510.2 2171.5,1608.7 2172,1495.4 2172.5,1588.6 2173,1510.5 2173.4,1591.2 2173.9,1508.9 2174.4,1588.3 2174.9,1602.6 2175.4,1500.9 2175.9,1510 2176.4,1600.6 2176.9,1599.9 2177.4,1434.6 2177.9,1506.2 2178.4,1596.2 2178.9,1610.8 2179.3,1588.1 2179.8,1510.2 2180.3,1603.5 2180.8,1487.3 2181.3,1593.5 2181.8,1505.2 2182.3,1510.1 2182.8,1587.1 2183.3,1600.2 2183.8,1510.6 2184.3,1587.3 2184.8,1505.4 2185.3,1606.1 2185.7,1463.4 2186.2,1510.6 2186.7,1506.4 2187.2,1588.8 2187.7,1508.5 2188.2,1586.8 2188.7,1504.9 2189.2,1586.9 2189.7,1505.6 2190.2,1588 2190.7,1586.9 2191.2,1596.5 2191.6,1509 2192.1,1593.5 2192.6,1495.3 2193.1,1590.3 2193.6,1510.5 2194.1,1587.2 2194.6,1507.2 2195.1,1586.8 2195.6,1464.3 2196.1,1588.7 2196.6,1490.5 2197.1,1587.7 2197.6,1486.9 2198,1465.1 2198.5,1508.1 2199,1492.2 2199.5,1493.4 2200,1604.3 2200.5,1498.6 2201,1586.8 2201.5,1590.4 2202,1610.8 2202.5,1435.8 2203,1602 2203.5,1509.7 2203.9,1589.1 2204.4,1500.7 2204.9,1588.7 2205.4,1487.5 2205.9,1602.9 2206.4,1502.8 2206.9,1603.8 2207.4,1505.7 2207.9,1587.8 2208.4,1486.1 2208.9,1618.2 2209.4,1453.7 2209.9,1588.7 2210.3,1506.3 2210.8,1587.2 2211.3,1486.1 2211.8,1597 2212.3,1500.4 2212.8,1598.6 2213.3,1510.1 2213.8,1597.4 2214.3,1509.2 2214.8,1587.8 2215.3,1490.7 2215.8,1606.3 2216.3,1497.8 2216.7,1592 2217.2,1501.5 2217.7,1605.1 2218.2,1507.4 2218.7,1587.3 2219.2,1486.6 2219.7,1588.4 2220.2,1497.4 2220.7,1587 2221.2,1505 2221.7,1601.6 2222.2,1487.4 2222.6,1601.3 2223.1,1610.2 2223.6,1587.1 2224.1,1494.8 2224.6,1588.7 2225.1,1510.6 2225.6,1591.2 2226.1,1506.5 2226.6,1492 2227.1,1487.1 2227.6,1589 2228.1,1508.1 2228.6,1504.3 2229,1591.7 2229.5,1592.9 2230,1501.4 2230.5,1591.2 2231,1610.5 2231.5,1592.5 2232,1498.1 2232.5,1588.4 2233,1510.4 2233.5,1592.3 2234,1500 2234.5,1502.5 2234.9,1510.7 2235.4,1606.6 2235.9,1494.7 2236.4,1608.9 2236.9,1503.8 2237.4,1598.5 2237.9,1500 2238.4,1587.3 2238.9,1510.8 2239.4,1587.8 2239.9,1493.5 2240.4,1586.8 2240.9,1492.6 2241.3,1502.9 2241.8,1510.2 2242.3,1606.5 2242.8,1506.4 2243.3,1587.4 2243.8,1509.2 2244.3,1507 2244.8,1505.4 2245.3,1510.7 2245.8,1510.9 2246.3,1587.8 2246.8,1492.9 2247.2,1586.8 2247.7,1505.5 2248.2,1487.8 2248.7,1510.6 2249.2,1608.4 2249.7,1508.9 2250.2,1598 2250.7,1497.8 2251.2,1611.7 2251.7,1507.9 2252.2,1587.2 2252.7,1510.8 2253.2,1610.7 2253.6,1499.5 2254.1,1607.3 2254.6,1510.9 2255.1,1610.2 2255.6,1491.9 2256.1,1595.3 2256.6,1497.6 2257.1,1594.3 2257.6,1486.9 2258.1,1493 2258.6,1510.8 2259.1,1588.2 2259.6,1587 2260,1590.1 2260.5,1510.4 2261,1590.7 2261.5,1503.3 2262,1587.7 2262.5,1495.5 2263,1611.2 2263.5,1509.7 2264,1591.8 2264.5,1495 2265,1589.9 2265.5,1493.5 2265.9,1591.9 2266.4,1502.1 2266.9,1587.5 2267.4,1490.1 2267.9,1494.2 2268.4,1510 2268.9,1587.1 2269.4,1502 2269.9,1601.2 2270.4,1501 2270.9,1592.2 2271.4,1503.7 2271.9,1611 2272.3,1496 2272.8,1600.2 2273.3,1492.3 2273.8,1587.7 2274.3,1510.4 2274.8,1498.4 2275.3,1506.5 2275.8,1601.1 2276.3,1510.9 2276.8,1496.5 2277.3,1509.1 2277.8,1509.7 2278.2,1595.7 2278.7,1590 2279.2,1485.7 2279.7,1606.6 2280.2,1588.4 2280.7,1497 2281.2,1510.7 2281.7,1596.3 2282.2,1505.5 2282.7,1610.1 2283.2,1495.5 2283.7,1494.2 2284.2,1497.9 2284.6,1592.8 2285.1,1484 2285.6,1590.9 2286.1,1508.2 2286.6,1620.2 2287.1,1496.3 2287.6,1594.2 2288.1,1510.1 2288.6,1587.9 2289.1,1507.3 2289.6,1604.3 2290.1,1482 2290.5,1510.9 2291,1510.9 2291.5,1592.4 2292,1495 2292.5,1590.5 2293,1500.6 2293.5,1503.6 2294,1594 2294.5,1507.9 2295,1510.8 2295.5,1592.4 2296,1504.3 2296.5,1588.3 2296.9,1510.6 2297.4,1510.7 2297.9,1500.1 2298.4,1594.3 2298.9,1505.7 2299.4,1598.9 2299.9,1588.5 2300.4,1604 2300.9,1504.6 2301.4,1503.4 2301.9,1510.7 2302.4,1595 2302.8,1510 2303.3,1597.8 2303.8,1509.8 2304.3,1587 2304.8,1502.3 2305.3,1588.1 2305.8,1494.8 2306.3,1590.6 2306.8,1601 2307.3,1598.2 2307.8,1507.1 2308.3,1592.5 2308.8,1495.7 2309.2,1587.6 2309.7,1599.8 2310.2,1591.9 2310.7,1509.5 2311.2,1586.7 2311.7,1486.5 2312.2,1588 2312.7,1502.1 2313.2,1510.9 2313.7,1500.2 2314.2,1602.5 2314.7,1510.9 2315.2,1592 2315.6,1501.7 2316.1,1609.9 2316.6,1492.9 2317.1,1587.2 2317.6,1510.5 2318.1,1510.8 2318.6,1490.9 2319.1,1589.4 2319.6,1509.5 2320.1,1592.7 2320.6,1488.3 2321.1,1590.6 2321.5,1588.6 2322,1595.3 2322.5,1507.6 2323,1606.3 2323.5,1484.3 2324,1628.3 2324.5,1497.5 2325,1596.2 2325.5,1507.2 2326,1608.1 2326.5,1502.4 2327,1590 2327.5,1596.1 2327.9,1501.7 2328.4,1484.4 2328.9,1609.8 2329.4,1609.9 2329.9,1586.8 2330.4,1506.2 2330.9,1595.3 2331.4,1509.6 2331.9,1495.4 2332.4,1498.9 2332.9,1593.2 2333.4,1496 2333.8,1593.2 2334.3,1510.4 2334.8,1610.8 2335.3,1595.8 2335.8,1586.8 2336.3,1500.2 2336.8,1587 2337.3,1504.7 2337.8,1607.7 2338.3,1504 2338.8,1593.2 2339.3,1492.5 2339.8,1603.8 2340.2,1509.9 2340.7,1587.8 2341.2,1509.4 2341.7,1587.6 2342.2,1510.6 2342.7,1602.5 2343.2,1473.3 2343.7,1586.8 2344.2,1510.8 2344.7,1489.2 2345.2,1503.3 2345.7,1596.4 2346.1,1510.6 2346.6,1510.6 2347.1,1495.6 2347.6,1504.7 2348.1,1505.3 2348.6,1599 2349.1,1509.9 2349.6,1587.1 2350.1,1509.7 2350.6,1476.4 2351.1,1510.8 2351.6,1589.4 2352.1,1508.8 2352.5,1603.7 2353,1505.5 2353.5,1589.2 2354,1490.1 2354.5,1608.1 2355,1505.9 2355.5,1599.2 2356,1510.1 2356.5,1593.1 2357,1510.6 2357.5,1586.8 2358,1507.3 2358.5,1586.8 2358.9,1509.8 2359.4,1506 2359.9,1508 2360.4,1587.1 2360.9,1499.5 2361.4,1587.1 2361.9,1507.9 2362.4,1587.7 2362.9,1500 2363.4,1588.2 2363.9,1498.6 2364.4,1608.3 2364.8,1488.9 2365.3,1592.9 2365.8,1487.5 2366.3,1590.7 2366.8,1509.1 2367.3,1588.3 2367.8,1502.3 2368.3,1591.8 2368.8,1593.3 2369.3,1588.3 2369.8,1502.8 2370.3,1507.4 2370.8,1509.6 2371.2,1587 2371.7,1494.7 2372.2,1594.4 2372.7,1490.1 2373.2,1588.2 2373.7,1509.2 2374.2,1593.2 2374.7,1471.5 2375.2,1505.6 2375.7,1493.1 2376.2,1590.8 2376.7,1491.1 2377.1,1589.3 2377.6,1500.3 2378.1,1608.7 2378.6,1501.8 2379.1,1588.1 2379.6,1494.8 2380.1,1602 2380.6,1491.5 2381.1,1601.3 2381.6,1510.6 2382.1,1588.9 2382.6,1504.2 2383.1,1443.5 2383.5,1486.1 2384,1587.5 2384.5,1510.5 2385,1607.9 2385.5,1507.7 2386,1588 2386.5,1497.8 2387,1494.4 2387.5,1496.8 2388,1587.3 2388.5,1488.7 2389,1602.1 2389.4,1485.4 2389.9,1599.3 2390.4,1509.3 2390.9,1606.4 2391.4,1490.6 2391.9,1505.8 2392.4,1508.6 2392.9,1500.2 2393.4,1502.8 2393.9,1592.9 2394.4,1509 2394.9,1602.4 2395.4,1495.4 2395.8,1592.6 2396.3,1510.1 2396.8,1600.1 2397.3,1491.3 2397.8,1587.4 2398.3,1603.9 2398.8,1609.1 2399.3,1508.7 2399.8,1597 2400.3,1506.2 2400.8,1601.6 2401.3,1495.3 2401.8,1592.3 2402.2,1490.1 2402.7,1587.3 2403.2,1502.8 2403.7,1597.6 2404.2,1602.1 2404.7,1597.6 2405.2,1503 2405.7,1597.6 2406.2,1601.4 2406.7,1500.7 2407.2,1589.4 2407.7,1610.5 2408.1,1507.6 2408.6,1503.4 2409.1,1505.8 2409.6,1474.6 2410.1,1484.1 2410.6,1598.7 2411.1,1586.1 2411.6,1585.7 2412.1,1493.2 2412.6,1604.1 2413.1,1504.3 2413.6,1584.9 2414.1,1502.9 2414.5,1609.5 2415,1594.8 2415.5,1599.2 2416,1496.5 2416.5,1593.6 2417,1485.5 2417.5,1585.3 2418,1478.6 2418.5,1581.6 2419,1589.5 2419.5,1595 2420,1469.4 2420.4,1589.8 2420.9,1490.9 2421.4,1477.7 2421.9,1485.6 2422.4,1483.9 2422.9,1455.8 2423.4,1465.8 2423.9,1476.6 2424.4,1575 2424.9,1457.9 2425.4,1568.8 2425.9,1445 2426.4,1590.5 2426.7,1539.1 2427.5,1748.1 2429.2,727.5 2432.6,727.5 2434.3,970.5 2440.7,1218.4 2445,1388.5 2449.3,1495.4 2454.9,1602.3 2458.8,1699.5 2459.8,1714.1 2459.8,1790.6 2460.3,1607.4 2460.8,1751.3 2461.3,1606.1 2461.8,1745.1 2462.3,1604.2 2462.8,1734.2 2463.3,1582.7 2463.7,1584.4 2464.2,1579.1 2464.7,1707.4 2465.2,1553.5 2465.7,1682 2466.2,1540 2466.7,1660.7 2467.2,1547.8 2467.7,1654.7 2468.2,1645 2468.7,1648.7 2469.2,1535 2469.7,1633.3 2470.1,1532.5 2470.6,1657.2 2471.1,1517.7 2471.6,1641 2472.1,1524.9 2472.6,1621.3 2473.1,1508.9 2473.6,1616.2 2474.1,1622.5 2474.6,1518.4 2475.1,1511.2 2475.6,1609.6 2476,1514.9 2476.5,1628 2477,1510.6 2477.5,1604.2 2478,1611.3 2478.5,1610.3 2479,1508.3 2479.5,1607 2480,1483.3 2480.5,1597.3 2481,1507.5 2481.5,1507.5 2482,1499.7 2482.4,1595 2482.9,1481.6 2483.4,1481.2 2483.9,1488.5 2484.4,1594.4 2484.9,1497.7 2485.4,1502.9 2485.9,1483.3 2486.4,1604.2 2486.9,1498.1 2487.4,1587 2487.9,1490.2 2488.3,1606.6 2488.8,1475.2 2489.3,1615.3 2489.8,1495.8 2490.3,1610.8 2490.8,1481.8 2491.3,1597.5 2491.8,1496.9 2492.3,1472.3 2492.8,1490.6 2493.3,1605.6 2493.8,1498.1 2494.3,1588.5 2494.7,1587.4 2495.2,1474.2 2495.7,1475.3 2496.2,1590.3 2496.7,1492.7 2497.2,1589.6 2497.7,1494.8 2498.2,1590 2498.7,1489.3 2499.2,1579 2499.7,1484.9 2500.2,1438.3 2500.7,1575.8 2501.1,1614.5 2501.6,1493 2502.1,1593.1 2502.6,1622.8 2503.1,1487.4 2503.6,1472.5 2504.1,1598.3 2504.6,1494.4 2505.1,1579.9 2505.6,1481.2 2506.1,1598.4 2506.6,1478.4 2507,1599 2507.5,1487.8 2508,1481.6 2508.5,1573.8 2509,1577.6 2509.5,1493.3 2510,1596.6 2510.5,1454.5 2511,1594.5 2511.5,1491.6 2512,1588 2512.5,1494 2513,1581 2513.4,1485.2 2513.9,1583.6 2514.4,1476.6 2514.9,1494.3 2515.4,1480.6 2515.9,1581.5 2516.4,1494.1 2516.9,1593 2517.4,1495.6 2517.9,1576.8 2518.4,1494.8 2518.9,1585.4 2519.3,1497.2 2519.8,1593.6 2520.3,1494.8 2520.8,1576.3 2521.3,1576.5 2521.8,1597.1 2522.3,1485.9 2522.8,1491.6 2523.3,1494.1 2523.8,1599.4 2524.3,1499.9 2524.8,1583.8 2525.3,1485.8 2525.7,1600.3 2526.2,1489.7 2526.7,1589.3 2527.2,1482.4 2527.7,1598.1 2528.2,1498.7 2528.7,1581.7 2529.2,1499.7 2529.7,1604.6 2530.2,1502.7 2530.7,1588.9 2531.2,1583.4 2531.6,1594.5 2532.1,1487.8 2532.6,1581.2 2533.1,1493.7 2533.6,1581.4 2534.1,1504.8 2534.6,1505 2535.1,1483.3 2535.6,1582.6 2536.1,1481.4 2536.6,1588.7 2537.1,1504.8 2537.6,1485.6 2538,1499.5 2538.5,1584.4 2539,1504.6 2539.5,1583.8 2540,1492.1 2540.5,1593.9 2541,1488.8 2541.5,1584.9 2542,1601.6 2542.5,1603.5 2543,1584.3 2543.5,1589.8 2544,1488.4 2544.4,1584.6 2544.9,1508.2 2545.4,1605.5 2545.9,1502.6 2546.4,1588.6 2546.9,1609.8 2547.4,1586.1 2547.9,1599.2 2548.4,1593.8 2548.9,1502.3 2549.4,1605 2549.9,1488.1 2550.3,1622.9 2550.8,1594.5 2551.3,1588 2551.8,1586.6 2552.3,1471.8 2552.8,1590.7 2553.3,1607.8 2553.8,1508 2554.3,1586.2 2554.8,1495.8 2555.3,1501.8 2555.8,1509.7 2556.3,1626.9 2556.7,1506.8 2557.2,1601.7 2557.7,1510.4 2558.2,1588 2558.7,1501.1 2559.2,1593.4 2559.7,1508.5 2560.2,1502 2560.7,1500.2 2561.2,1598.7 2561.7,1509.8 2562.2,1603.3 2562.6,1510.7 2563.1,1592.5 2563.6,1508 2564.1,1594.3 2564.6,1487.3 2565.1,1486.5 2565.6,1505.4 2566.1,1598 2566.6,1498.7 2567.1,1588.2 2567.6,1510.6 2568.1,1591.1 2568.6,1506.8 2569,1601 2569.5,1510.8 2570,1589 2570.5,1501.5 2571,1612.1 2571.5,1587.2 2572,1589.8 2572.5,1487.8 2573,1587.3 2573.5,1474.2 2574,1596 2574.5,1487.6 2574.9,1594.1 2575.4,1486.1 2575.9,1597 2576.4,1509.7 2576.9,1598.5 2577.4,1488 2577.9,1590.4 2578.4,1499.3 2578.9,1587.1 2579.4,1509.7 2579.9,1589.7 2580.4,1493.3 2580.9,1594.6 2581.3,1509.1 2581.8,1589.9 2582.3,1506.8 2582.8,1605.3 2583.3,1492.9 2583.8,1610.1 2584.3,1496.2 2584.8,1586.8 2585.3,1510.1 2585.8,1605.8 2586.3,1504.9 2586.8,1591.4 2587.2,1489 2587.7,1597.7 2588.2,1496.5 2588.7,1486 2589.2,1496.8 2589.7,1594.1 2590.2,1502 2590.7,1586.8 2591.2,1490.2 2591.7,1592.7 2592.2,1508.8 2592.7,1588.7 2593.2,1510.2 2593.6,1587.4 2594.1,1587.6 2594.6,1497.9 2595.1,1508.3 2595.6,1597 2596.1,1487.2 2596.6,1599 2597.1,1489.7 2597.6,1589.7 2598.1,1490.7 2598.6,1591.6 2599.1,1510.3 2599.6,1609.1 2600,1606.6 2600.5,1596.4 2601,1509.1 2601.5,1598.5 2602,1509.9 2602.5,1610.7 2603,1510.9 2603.5,1586.8 2604,1603.9 2604.5,1603 2605,1489.2 2605.5,1509.3 2605.9,1506.7 2606.4,1591.5 2606.9,1510.9 2607.4,1607.6 2607.9,1510.9 2608.4,1611 2608.9,1510.9 2609.4,1604.5 2609.9,1498.3 2610.4,1587.3 2610.9,1510.5 2611.4,1591 2611.9,1509.2 2612.3,1501.2 2612.8,1509.9 2613.3,1586.8 2613.8,1509.5 2614.3,1586.8 2614.8,1479 2615.3,1595.2 2615.8,1510.3 2616.3,1609.9 2616.8,1491 2617.3,1588.6 2617.8,1509.7 2618.2,1588 2618.7,1509.7 2619.2,1605.7 2619.7,1499.1 2620.2,1610.1 2620.7,1500.8 2621.2,1608.4 2621.7,1488.4 2622.2,1595.9 2622.7,1510.9 2623.2,1594.4 2623.7,1508.5 2624.2,1495.4 2624.6,1600.5 2625.1,1586.9 2625.6,1490.7 2626.1,1597.9 2626.6,1507.2 2627.1,1586.8 2627.6,1493.4 2628.1,1510.2 2628.6,1508.4 2629.1,1586.9 2629.6,1507.5 2630.1,1606.6 2630.5,1504.3 2631,1588.5 2631.5,1502.6 2632,1593.5 2632.5,1503.1 2633,1600.8 2633.5,1501.4 2634,1591.2 2634.5,1510.8 2635,1610.4 2635.5,1488.8 2636,1588 2636.5,1590.8 2636.9,1588 2637.4,1488.9 2637.9,1589.6 2638.4,1507 2638.9,1596.1 2639.4,1510.8 2639.9,1586.8 2640.4,1495.8 2640.9,1590.6 2641.4,1505 2641.9,1591.8 2642.4,1510.5 2642.9,1593.2 2643.3,1506 2643.8,1588.3 2644.3,1498.5 2644.8,1590.4 2645.3,1510.7 2645.8,1586.9 2646.3,1498.3 2646.8,1587 2647.3,1508.7 2647.8,1592.6 2648.3,1592.6 2648.8,1588.1 2649.2,1485.8 2649.7,1603.5 2650.2,1498.5 2650.7,1605.5 2651.2,1503.2 2651.7,1596.8 2652.2,1500.3 2652.7,1586.8 2653.2,1504.8 2653.7,1604.2 2654.2,1596.6 2654.7,1595.2 2655.2,1495.9 2655.6,1594.5 2656.1,1506.9 2656.6,1595.4 2657.1,1510.8 2657.6,1500 2658.1,1510.5 2658.6,1599.9 2659.1,1507.2 2659.6,1596.7 2660.1,1587.3 2660.6,1603.6 2661.1,1596.2 2661.5,1507.4 2662,1505.7 2662.5,1608.1 2663,1510.8 2663.5,1587.5 2664,1489.6 2664.5,1587.8 2665,1494 2665.5,1587.6 2666,1590.5 2666.5,1588 2667,1503.5 2667.5,1591.8 2667.9,1486.5 2668.4,1586.7 2668.9,1494.2 2669.4,1592.6 2669.9,1504.3 2670.4,1590.1 2670.9,1510.5 2671.4,1587.9 2671.9,1498.7 2672.4,1586.8 2672.9,1508.3 2673.4,1591.9 2673.8,1488.6 2674.3,1587.8 2674.8,1494.5 2675.3,1595 2675.8,1510.9 2676.3,1587.6 2676.8,1491.2 2677.3,1587.2 2677.8,1498.5 2678.3,1587.5 2678.8,1495.1 2679.3,1586.9 2679.8,1487.8 2680.2,1588.9 2680.7,1506.2 2681.2,1587 2681.7,1508.9 2682.2,1492.6 2682.7,1500.1 2683.2,1610.7 2683.7,1498.1 2684.2,1589.7 2684.7,1607 2685.2,1587.4 2685.7,1588.9 2686.2,1592.7 2686.6,1502.7 2687.1,1592 2687.6,1461.3 2688.1,1589.5 2688.6,1490.6 2689.1,1597 2689.6,1595.8 2690.1,1496.1 2690.6,1509 2691.1,1589.7 2691.6,1489.2 2692.1,1600.5 2692.5,1485.9 2693,1593.9 2693.5,1508.8 2694,1592 2694.5,1493.6 2695,1587 2695.5,1497.7 2696,1588.1 2696.5,1508.7 2697,1588.7 2697.5,1507.5 2698,1587.1 2698.5,1510.9 2698.9,1590.9 2699.4,1475.6 2699.9,1596.5 2700.4,1510.8 2700.9,1603.8 2701.4,1495.7 2701.9,1595.6 2702.4,1488.2 2702.9,1588.3 2703.4,1589.2 2703.9,1606.2 2704.4,1610.1 2704.8,1587.3 2705.3,1504.8 2705.8,1597.5 2706.3,1503 2706.8,1602.5 2707.3,1503.6 2707.8,1592.9 2708.3,1491.8 2708.8,1589.7 2709.3,1486.4 2709.8,1611.4 2710.3,1499.9 2710.8,1587.6 2711.2,1504.4 2711.7,1510.5 2712.2,1506.8 2712.7,1596.1 2713.2,1510.8 2713.7,1605.5 2714.2,1510.8 2714.7,1599.5 2715.2,1493.7 2715.7,1607.8 2716.2,1490.7 2716.7,1616.7 2717.1,1490.8 2717.6,1589.6 2718.1,1509.7 2718.6,1597.2 2719.1,1506.4 2719.6,1606.5 2720.1,1596.5 2720.6,1593 2721.1,1493.7 2721.6,1593.3 2722.1,1510.9 2722.6,1597.8 2723.1,1508.8 2723.5,1510.6 2724,1590.7 2724.5,1490.1 2725,1506.1 2725.5,1601 2726,1505.1 2726.5,1589.1 2727,1598.4 2727.5,1606.5 2728,1509.2 2728.5,1490.1 2729,1500.1 2729.4,1604.2 2729.9,1502.5 2730.4,1592.8 2730.9,1507.6 2731.4,1499.2 2731.9,1508.5 2732.4,1606.7 2732.9,1500.8 2733.4,1606.4 2733.9,1510.7 2734.4,1598.2 2734.9,1510.5 2735.4,1588 2735.8,1490.8 2736.3,1611.8 2736.8,1503.7 2737.3,1589.5 2737.8,1500 2738.3,1587.4 2738.8,1606.5 2739.3,1510.8 2739.8,1489.4 2740.3,1588 2740.8,1493.6 2741.3,1609.9 2741.8,1508.2 2742.2,1595.8 2742.7,1503.7 2743.2,1606.7 2743.7,1499.4 2744.2,1588.1 2744.7,1503.9 2745.2,1594.8 2745.7,1494.4 2746.2,1587.2 2746.7,1497.9 2747.2,1607.8 2747.7,1510.4 2748.1,1589.6 2748.6,1507.8 2749.1,1587.1 2749.6,1487.4 2750.1,1606.7 2750.6,1501.7 2751.1,1591.7 2751.6,1495.6 2752.1,1603.8 2752.6,1597.3 2753.1,1588.6 2753.6,1502.3 2754.1,1486.3 2754.5,1597.5 2755,1610.1 2755.5,1510.9 2756,1587.4 2756.5,1496 2757,1586.8 2757.5,1510.6 2758,1591.8 2758.5,1508.8 2759,1505.9 2759.5,1499.3 2760,1589.8 2760.4,1488.5 2760.9,1498.7 2761.4,1489.4 2761.9,1586.8 2762.4,1510.1 2762.9,1508.7 2763.4,1502.8 2763.9,1587.1 2764.4,1503 2764.9,1600.7 2765.4,1506.3 2765.9,1486.5 2766.4,1601.9 2766.8,1623.4 2767.3,1498.5 2767.8,1588.8 2768.3,1601.2 2768.8,1587.7 2769.3,1508.6 2769.8,1509.2 2770.3,1503.4 2770.8,1615 2771.3,1510.8 2771.8,1586.8 2772.3,1507.5 2772.7,1586.8 2773.2,1509.8 2773.7,1503.8 2774.2,1488.3 2774.7,1606.1 2775.2,1509.9 2775.7,1486.8 2776.2,1509.7 2776.7,1608.5 2777.2,1510.6 2777.7,1589.1 2778.2,1509.4 2778.7,1587.6 2779.1,1499.3 2779.6,1621 2780.1,1509.3 2780.6,1587.6 2781.1,1510.1 2781.6,1606.5 2782.1,1492.5 2782.6,1596.5 2783.1,1487.4 2783.6,1488.6 2784.1,1606.2 2784.6,1507 2785.1,1508.9 2785.5,1486.7 2786,1494.4 2786.5,1601.6 2787,1509.4 2787.5,1601.8 2788,1505.9 2788.5,1586.8 2789,1589.9 2789.5,1596.6 2790,1493.2 2790.5,1593.3 2791,1505.2 2791.4,1605.1 2791.9,1497.6 2792.4,1594.4 2792.9,1466 2793.4,1611.9 2793.9,1507.8 2794.4,1587.5 2794.9,1503.4 2795.4,1590.7 2795.9,1489.9 2796.4,1609.3 2796.9,1587 2797.4,1585.8 2797.8,1483.4 2798.3,1586.3 2798.8,1491.7 2799.3,1589.3 2799.8,1488.2 2800.3,1585.2 2800.8,1503 2801.3,1587.6 2801.8,1501.3 2802.3,1584 2802.8,1500.7 2803.3,1587.3 2803.7,1480.2 2804.2,1582.3 2804.7,1490.8 2805.2,1585.9 2805.7,1493.4 2806.2,1612.5 2806.7,1491 2807.2,1581.4 2807.7,1577.8 2808.2,1579.3 2808.7,1465.8 2809.2,1575.4 2809.7,1482.8 2810.1,1574.5 2810.6,1460.3 2811.1,1576.1 2811.6,1567.2 2812.1,1466.3 2812.6,1417.8 2813.1,1568 2813.1,1539.1 2813.9,1748.1 2815.6,727.5 2819,727.5 2820.8,970.5 2827.2,1218.4 2831.5,1388.5 2835.7,1495.4 2841.4,1602.3 2845.3,1699.5 2846.2,1714.1 2846.6,1814.2 2847,1641.8 2847.5,1761.2 2848,1752.5 2848.5,1722.5 2849,1572.1 2849.5,1710.1 2850,1578.9 2850.5,1699.8 2851,1570.5 2851.5,1697.5 2852,1547 2852.5,1670.7 2853,1555.4 2853.4,1666.8 2853.9,1545.6 2854.4,1645.6 2854.9,1533.3 2855.4,1642 2855.9,1522.4 2856.4,1646.4 2856.9,1512.5 2857.4,1644.8 2857.9,1506 2858.4,1622.8 2858.9,1510.3 2859.3,1643 2859.8,1505.8 2860.3,1673.6 2860.8,1514.1 2861.3,1623.5 2861.8,1488.6 2862.3,1656.9 2862.8,1499.4 2863.3,1604.9 2863.8,1504.9 2864.3,1630.6 2864.8,1488.6 2865.3,1613.1 2865.7,1498.2 2866.2,1488.9 2866.7,1507.4 2867.2,1596.4 2867.7,1507.8 2868.2,1482.5 2868.7,1495.7 2869.2,1600.9 2869.7,1502.4 2870.2,1606 2870.7,1503.1 2871.2,1612.3 2871.7,1501.9 2872.1,1501 2872.6,1503.1 2873.1,1615.2 2873.6,1497.7 2874.1,1587.6 2874.6,1476.4 2875.1,1585.4 2875.6,1500.9 2876.1,1589.9 2876.6,1489.9 2877.1,1584.9 2877.6,1475.1 2878,1598.3 2878.5,1475 2879,1481.9 2879.5,1482.4 2880,1580.5 2880.5,1490.4 2881,1605 2881.5,1497.3 2882,1615.2 2882.5,1590.8 2883,1484 2883.5,1475 2884,1582.7 2884.4,1471.7 2884.9,1578.1 2885.4,1495.6 2885.9,1475.5 2886.4,1628.8 2886.9,1575.8 2887.4,1491.5 2887.9,1577.4 2888.4,1479 2888.9,1489.2 2889.4,1494.7 2889.9,1574.9 2890.3,1479.9 2890.8,1578.4 2891.3,1483.4 2891.8,1590.9 2892.3,1488 2892.8,1579.2 2893.3,1494.3 2893.8,1575.6 2894.3,1446.6 2894.8,1586.1 2895.3,1474.5 2895.8,1593.3 2896.3,1489.5 2896.7,1589.9 2897.2,1461 2897.7,1595.5 2898.2,1471.5 2898.7,1573.7 2899.2,1489.8 2899.7,1576.6 2900.2,1491.5 2900.7,1590.2 2901.2,1494.6 2901.7,1594.5 2902.2,1495.2 2902.6,1578.1 2903.1,1496.3 2903.6,1473.2 2904.1,1478 2904.6,1574.7 2905.1,1478.7 2905.6,1574.9 2906.1,1496.8 2906.6,1585.2 2907.1,1493.9 2907.6,1578.8 2908.1,1498.6 2908.6,1580.6 2909,1496.6 2909.5,1576.6 2910,1475.3 2910.5,1582.8 2911,1492.3 2911.5,1578.8 2912,1500.6 2912.5,1589.1 2913,1599.5 2913.5,1600.8 2914,1490.5 2914.5,1616.9 2914.9,1491.3 2915.4,1596.3 2915.9,1500.3 2916.4,1580.9 2916.9,1502.7 2917.4,1589.8 2917.9,1501.7 2918.4,1604.5 2918.9,1479.8 2919.4,1600 2919.9,1484.1 2920.4,1582.2 2920.9,1501.6 2921.3,1601.4 2921.8,1581.9 2922.3,1599.5 2922.8,1505.4 2923.3,1588.2 2923.8,1505.8 2924.3,1585.4 2924.8,1494.9 2925.3,1596.1 2925.8,1485.8 2926.3,1591.1 2926.8,1506.4 2927.3,1596.8 2927.7,1495 2928.2,1586.3 2928.7,1492 2929.2,1608.9 2929.7,1506.7 2930.2,1592.7 2930.7,1508.2 2931.2,1594.2 2931.7,1508 2932.2,1591.1 2932.7,1491.4 2933.2,1585.3 2933.6,1506.3 2934.1,1589 2934.6,1586.5 2935.1,1592.5 2935.6,1601.8 2936.1,1608.8 2936.6,1486.4 2937.1,1587.4 2937.6,1509.3 2938.1,1592.7 2938.6,1493.2 2939.1,1587.1 2939.6,1481.6 2940,1587.9 2940.5,1510 2941,1587.2 2941.5,1510.2 2942,1603.2 2942.5,1505.1 2943,1608.2 2943.5,1505.1 2944,1633.4 2944.5,1501.6 2945,1588.1 2945.5,1496.2 2945.9,1629.3 2946.4,1489.6 2946.9,1586.6 2947.4,1508.6 2947.9,1596.5 2948.4,1510.6 2948.9,1508 2949.4,1506.5 2949.9,1485.4 2950.4,1489 2950.9,1586.7 2951.4,1509.1 2951.9,1593.4 2952.3,1487.1 2952.8,1496.1 2953.3,1508.4 2953.8,1588 2954.3,1504.8 2954.8,1588.1 2955.3,1590.1 2955.8,1594.6 2956.3,1496 2956.8,1587.2 2957.3,1492.9 2957.8,1597.5 2958.2,1492.2 2958.7,1594.3 2959.2,1509.1 2959.7,1589.9 2960.2,1502.6 2960.7,1601.4 2961.2,1587.1 2961.7,1603.4 2962.2,1509.8 2962.7,1587.5 2963.2,1510.9 2963.7,1590.5 2964.2,1485.5 2964.6,1593.4 2965.1,1505 2965.6,1586.8 2966.1,1510.9 2966.6,1592.1 2967.1,1510.9 2967.6,1602.3 2968.1,1508.1 2968.6,1596.2 2969.1,1499.9 2969.6,1592.2 2970.1,1504.2 2970.6,1510.9 2971,1593.1 2971.5,1491.9 2972,1484.6 2972.5,1589.8 2973,1510.8 2973.5,1593.4 2974,1510.9 2974.5,1590.1 2975,1492.7 2975.5,1586.8 2976,1510.5 2976.5,1594.1 2976.9,1489.3 2977.4,1598.9 2977.9,1510.3 2978.4,1600.1 2978.9,1586.9 2979.4,1594.6 2979.9,1510.8 2980.4,1588.7 2980.9,1504.3 2981.4,1510 2981.9,1586.9 2982.4,1586.8 2982.9,1501.6 2983.3,1485.8 2983.8,1501.7 2984.3,1594.3 2984.8,1486.5 2985.3,1601.5 2985.8,1589.3 2986.3,1633.9 2986.8,1510.5 2987.3,1591.2 2987.8,1495.7 2988.3,1589.4 2988.8,1503.8 2989.2,1592.9 2989.7,1588.5 2990.2,1592.2 2990.7,1507.8 2991.2,1586.8 2991.7,1510.6 2992.2,1588.5 2992.7,1510.8 2993.2,1588.8 2993.7,1510.1 2994.2,1590.7 2994.7,1487.7 2995.2,1589.6 2995.6,1510.5 2996.1,1587.7 2996.6,1510.5 2997.1,1590.2 2997.6,1490.7 2998.1,1593.7 2998.6,1510.9 2999.1,1589.9 2999.6,1509.9 3000.1,1592.7 3000.6,1510.8 3001.1,1495.4 3001.5,1508.6 3002,1591 3002.5,1510.5 3003,1596.5 3003.5,1504.4 3004,1588.8 3004.5,1486.5 3005,1469.1 3005.5,1587.3 3006,1591.9 3006.5,1502.5 3007,1588 3007.5,1487.6 3007.9,1487.3 3008.4,1510.9 3008.9,1587.5 3009.4,1510.6 3009.9,1598 3010.4,1485.7 3010.9,1587.1 3011.4,1599.6 3011.9,1602.1 3012.4,1510.6 3012.9,1586.9 3013.4,1508.4 3013.9,1588.3 3014.3,1510.9 3014.8,1601.3 3015.3,1490.2 3015.8,1607.8 3016.3,1509.4 3016.8,1598.7 3017.3,1495.7 3017.8,1601.5 3018.3,1509.1 3018.8,1593 3019.3,1490.5 3019.8,1602.5 3020.2,1499.8 3020.7,1586.8 3021.2,1497.6 3021.7,1510.2 3022.2,1596.1 3022.7,1605.7 3023.2,1510.1 3023.7,1591.6 3024.2,1504.3 3024.7,1498.6 3025.2,1487.7 3025.7,1587.4 3026.2,1501.7 3026.6,1608.7 3027.1,1509.3 3027.6,1588.7 3028.1,1506.2 3028.6,1593.9 3029.1,1507.9 3029.6,1600.2 3030.1,1510.9 3030.6,1448.8 3031.1,1506.4 3031.6,1590.9 3032.1,1499.8 3032.5,1596.9 3033,1494.5 3033.5,1595.8 3034,1506 3034.5,1591.5 3035,1510.9 3035.5,1587.8" fill="none" stroke="#0072BD" stroke-width="2.4" stroke-linejoin="round" stroke-miterlimit="20" clip-path="url(#c11)"/>
<polyline points="677.3,970.5 678.3,1096.9 681.8,1281.5 683.8,1339.9 688.1,1445.8 693.4,1551.8 699.7,1614.9 705,1657.7 711.4,1697.6 712.8,1714.1" fill="none" stroke="#0072BD" stroke-width="2.2" stroke-linejoin="round" stroke-miterlimit="20" clip-path="url(#c01)" stroke-opacity="0.75"/>
<polyline points="1064,970.5 1065,1096.9 1068.5,1281.5 1070.5,1339.9 1074.8,1445.8 1080.1,1551.8 1086.4,1614.9 1091.7,1657.7 1098.1,1697.6 1099.6,1714.1" fill="none" stroke="#0072BD" stroke-width="2.2" stroke-linejoin="round" stroke-miterlimit="20" clip-path="url(#c01)" stroke-opacity="0.75"/>
<polyline points="1450.8,970.5 1451.8,1096.9 1455.3,1281.5 1457.3,1339.9 1461.6,1445.8 1466.9,1551.8 1473.2,1614.9 1478.5,1657.7 1484.9,1697.6 1486.4,1714.1" fill="none" stroke="#0072BD" stroke-width="2.2" stroke-linejoin="round" stroke-miterlimit="20" clip-path="url(#c01)" stroke-opacity="0.75"/>
<polyline points="675.5,1748.1 675.8,727.5" fill="none" stroke="#0072BD" stroke-width="2.4" stroke-linejoin="round" stroke-miterlimit="20" clip-path="url(#c01)" stroke-opacity="0.8"/>
<polyline points="2043,1748.1 2043.4,727.5" fill="none" stroke="#0072BD" stroke-width="2.2" stroke-linejoin="round" stroke-miterlimit="20" clip-path="url(#c11)" stroke-opacity="0.6"/>
<polyline points="1062.3,1748.1 1062.6,727.5" fill="none" stroke="#0072BD" stroke-width="2.4" stroke-linejoin="round" stroke-miterlimit="20" clip-path="url(#c01)" stroke-opacity="0.8"/>
<polyline points="2429.5,1748.1 2429.8,727.5" fill="none" stroke="#0072BD" stroke-width="2.2" stroke-linejoin="round" stroke-miterlimit="20" clip-path="url(#c11)" stroke-opacity="0.6"/>
<polyline points="1449.1,1748.1 1449.4,727.5" fill="none" stroke="#0072BD" stroke-width="2.4" stroke-linejoin="round" stroke-miterlimit="20" clip-path="url(#c01)" stroke-opacity="0.8"/>
<polyline points="2815.9,1748.1 2816.2,727.5" fill="none" stroke="#0072BD" stroke-width="2.2" stroke-linejoin="round" stroke-miterlimit="20" clip-path="url(#c11)" stroke-opacity="0.6"/>
<polyline points="2048,727.5 2049.8,970.5 2056.2,1218.4 2060.4,1388.5 2064.7,1495.4 2070.4,1602.3 2074.3,1699.5 2075.2,1714.1" fill="none" stroke="#0072BD" stroke-width="2.2" stroke-linejoin="round" stroke-miterlimit="20" clip-path="url(#c11)" stroke-opacity="0.75"/>
<polyline points="2434.4,727.5 2436.2,970.5 2442.6,1218.4 2446.9,1388.5 2451.2,1495.4 2456.8,1602.3 2460.7,1699.5 2461.6,1714.1" fill="none" stroke="#0072BD" stroke-width="2.2" stroke-linejoin="round" stroke-miterlimit="20" clip-path="url(#c11)" stroke-opacity="0.75"/>
<polyline points="2820.8,727.5 2822.6,970.5 2829,1218.4 2833.3,1388.5 2837.6,1495.4 2843.2,1602.3 2847.1,1699.5 2848.1,1714.1" fill="none" stroke="#0072BD" stroke-width="2.2" stroke-linejoin="round" stroke-miterlimit="20" clip-path="url(#c11)" stroke-opacity="0.75"/>
<polyline points="498.5,2257.7 499.3,2141.9 500.1,2261 500.9,2139.1 501.7,2243 502.5,2321.7 503.3,2219 504.1,2318 504.9,2322.6 505.7,2317.3 506.5,2274.8 507.3,2261.3 508.1,2314.1 508.9,2521.1 509.7,2390.5 510.5,2267.2 511.3,2380.8 512.1,2359.2 513,2312.8 513.8,2447.3 514.6,2338.8 515.4,2265.1 516.2,2321.4 517,2305.6 517.8,2276.5 518.6,2271.6 519.4,2296.7 520.2,2314.8 521,2324.7 521.8,2323.5 522.6,2265.7 523.4,2297.1 524.2,2307 525,2324.8 525.8,2328.8 526.6,2278.5 527.4,2350 528.2,2272 529,2302.1 529.8,2297.3 530.6,2250.6 531.4,2217.2 532.2,2332.5 533,2349.1 533.8,2339.6 534.6,2254.2 535.4,2349.2 536.2,2180.3 537,2285.6 537.8,2249.8 538.6,2266.2 539.4,2342.7 540.2,2266.4 541,2342.9 541.9,2307.4 542.7,2308.7 543.5,2295.3 544.3,2305.3 545.1,2292.2 545.9,2293.5 546.7,2302 547.5,2404 548.3,2375.2 549.1,2319 549.9,2404.3 550.7,2251.3 551.5,2323.8 552.3,2456.8 553.1,2357.4 553.9,2367.2 554.7,2288.9 555.5,2412.1 556.3,2261.1 557.1,2361.1 557.9,2301 558.7,2265 559.5,2278.5 560.3,2317.1 561.1,2396.1 561.9,2280.2 562.7,2381.3 563.5,2337.3 564.3,2353.3 565.1,2493 565.9,2288.7 566.7,2290.5 567.5,2464.4 568.3,2252.7 569.1,2317.3 570,2310.3 570.8,2378.4 571.6,2392.2 572.4,2328.1 573.2,2294.3 574,2234.6 574.8,2338.5 575.6,2245.2 576.4,2315.1 577.2,2256.6 578,2209.2 578.8,2247.6 579.6,2295.5 580.4,2310.3 581.2,2283.4 582,2281.2 582.8,2307.4 583.6,2282.4 584.4,2386.9 585.2,2359.1 586,2329.6 586.8,2228.4 587.6,2265 588.4,2394.3 589.2,2282.1 590,2339.7 590.8,2252.9 591.6,2293.6 592.4,2257.9 593.2,2245.8 594,2405.2 594.8,2309.9 595.6,2349.6 596.4,2300.4 597.2,2219.3 598,2385.4 598.9,2301.4 599.7,2348.2 600.5,2292 601.3,2451.8 602.1,2442.4 602.9,2472.8 603.7,2280.8 604.5,2319.7 605.3,2351.4 606.1,2332 606.9,2301.3 607.7,2364 608.5,2256.8 609.3,2423.3 610.1,2228.3 610.9,2253.3 611.7,2223.1 612.5,2279.9 613.3,2378.3 614.1,2358.4 614.9,2308.8 615.7,2244.3 616.5,2274 617.3,2320.1 618.1,2369.7 618.9,2316 619.7,2271.1 620.5,2280.3 621.3,2234.1 622.1,2433.2 622.9,2262.8 623.7,2309.2 624.5,2215.1 625.3,2389.6 626.1,2337.7 627,2320.1 627.8,2303.8 628.6,2526.6 629.4,2381.6 630.2,2302.1 631,2286.9 631.8,2272.5 632.6,2338.3 633.4,2313.5 634.2,2369.3 635,2370.2 635.8,2392.6 636.6,2320.5 637.4,2260.5 638.2,2342.4 639,2315.2 639.8,2253.3 640.6,2293.8 641.4,2325.5 642.2,2339.7 643,2446.3 643.8,2374.6 644.6,2275.5 645.4,2269.9 646.2,2389.6 647,2271.3 647.8,2257.6 648.6,2221.2 649.4,2354.6 650.2,2352.5 651,2269.7 651.8,2239.5 652.6,2261.9 653.4,2228.9 654.2,2296.3 655,2284.4 655.9,2288.3 656.7,2394.8 657.5,2331.3 658.3,2266.2 659.1,2490.9 659.9,2292.5 660.7,2356.1 661.5,2332.6 662.3,2302.5 663.1,2324.9 663.9,2397.3 664.7,2229 665.5,2560.8 666.3,2310.3 667.1,2396.8 667.9,2391.2 668.7,2380 669.5,2416.2 670.3,2315.1 671.1,2258.6 671.9,2330.3 672.7,2305.3 673.5,2261.8 674.3,2335.1 675.1,2363.1 675.9,2347.6 676.7,2382 677.5,2358.8 678.3,2386.8 679.1,2345.7 679.9,2363.8 680.7,2433.6 681.5,2382 682.3,2278.2 683.1,2275.6 684,2241.8 684.8,2302.6 685.6,2393.7 686.4,2340.9 687.2,2260.5 688,2279.9 688.8,2468.9 689.6,2385.3 690.4,2242.5 691.2,2274.2 692,2293.9 692.8,2322.8 693.6,2271.1 694.4,2310.6 695.2,2231.8 696,2245.1 696.8,2218.7 697.6,2219 698.4,2320.8 699.2,2313 700,2373.3 700.8,2253.8 701.6,2356 702.4,2325.7 703.2,2385.5 704,2464.3 704.8,2297.2 705.6,2382.6 706.4,2256.6 707.2,2249.4 708,2311.2 708.8,2277.5 709.6,2356.8 710.4,2286.8 711.2,2242.2 712,2411 712.9,2216.1 713.7,2225.4 714.5,2285.8 715.3,2273.8 716.1,2237.3 716.9,2299 717.7,2323.9 718.5,2264.3 719.3,2268.2 720.1,2201.4 720.9,2249 721.7,2211.2 722.5,2175.2 723.3,2244.5 724.1,2149.3 724.9,2213.1 725.7,2214.3 726.5,2172 727.3,2316.6 728.1,2244.8 728.9,2220 729.7,2204.6 730.5,2212.3 731.3,2152.7 732.1,2230.4 732.9,2126.7 733.7,2139.6 734.5,2135.6 735.3,2138.6 736.1,2169.8 736.9,2090.8 737.7,2093.6 738.5,2070.5 739.3,2093.7 740.1,2036.7 741,2033 741.8,2008.4 742.6,2014.4 743.4,2037.6 744.2,2029.3 745,2063.1 745.8,2012.6 746.6,2007.2 747.4,2020.8 748.2,2020.7 749,2019.2 749.8,2008.9 750.6,2006.2 751.4,2023.5 752.2,2029.5 753,2004.7 753.8,2009.9 754.6,2019.7 755.4,2015.9 756.2,2010.5 757,2025.1 757.8,2016.2 758.6,2005.7 759.4,2013.5 760.2,2006.9 761,2010.8 761.8,1995.8 762.6,2003.2 763.4,2001.2 764.2,1997.4 765,1999.5 765.8,1996.6 766.6,1993.2 767.4,1988 768.2,1987.9 769,2001.7 769.9,1994.1 770.7,1995.6 771.5,1989 772.3,2002 773.1,1982.3 773.9,2012 774.7,1982.3 775.5,2003.1 776.3,2011.9 777.1,2002.4 777.9,2008.4 778.7,2024.3 779.5,2034.5 780.3,2067.4 781.1,2013.6 781.9,2029.1 782.7,2044.5 783.5,2065.2 784.3,2040.3 785.1,2135.6 785.9,2138.5 786.7,2142 787.5,2255.2 788.3,2270.1 789.1,2298.9 789.9,2244 790.7,2225.2 791.5,2242.7 792.3,2467.1 793.1,2308.3 793.9,2291.1 794.7,2285.2 795.5,2273.9 796.3,2297.7 797.1,2329.1 798,2307.9 798.8,2403.8 799.6,2381.8 800.4,2297.3 801.2,2335.5 802,2431.6 802.8,2313.6 803.6,2203.6 804.4,2251.6 805.2,2241.4 806,2503.2 806.8,2335 807.6,2277.2 808.4,2266.4 809.2,2225.8 810,2423.4 810.8,2358.7 811.6,2335.5 812.4,2277.3 813.2,2332.9 814,2407.3 814.8,2294.5 815.6,2471.2 816.4,2365.2 817.2,2334.6 818,2298.4 818.8,2411 819.6,2288.5 820.4,2253.5 821.2,2332 822,2270.8 822.8,2444.7 823.6,2423.3 824.4,2233.2 825.2,2342.1 826,2340.2 826.9,2306.5 827.7,2277.1 828.5,2369 829.3,2330.9 830.1,2280.2 830.9,2288.8 831.7,2337.6 832.5,2346.8 833.3,2227.4 834.1,2309.9 834.9,2294.7 835.7,2338.6 836.5,2272.6 837.3,2448.1 838.1,2376.4 838.9,2329.5 839.7,2442 840.5,2243.7 841.3,2279.5 842.1,2406 842.9,2251.2 843.7,2318 844.5,2264.9 845.3,2340.2 846.1,2314 846.9,2269.6 847.7,2272.7 848.5,2298.6 849.3,2289.5 850.1,2412.5 850.9,2256.2 851.7,2299.5 852.5,2334.3 853.3,2298.5 854.1,2256.9 855,2296 855.8,2304.1 856.6,2365.2 857.4,2327.6 858.2,2279.6 859,2424.1 859.8,2334 860.6,2307.7 861.4,2333.2 862.2,2333 863,2408.8 863.8,2258.6 864.6,2296.8 865.4,2299 866.2,2279.8 867,2285.8 867.8,2525.2 868.6,2448.2 869.4,2309.5 870.2,2330.2 871,2323.5 871.8,2659.8 872.6,2252.6 873.4,2595.9 874.2,2290.3 875,2512.1 875.8,2331 876.6,2397.7 877.4,2322.4 878.2,2292.3 879,2390.7 879.8,2314.9 880.6,2480.1 881.4,2493 882.2,2290.5 883,2324.3 883.9,2296 884.7,2279.7 885.5,2319.2 886.3,2257.3 887.1,2356.5 887.9,2398.1 888.7,2372.6 889.5,2330.6 890.3,2358.1 891.1,2402.3 891.9,2332 892.7,2423.5 893.5,2399 894.3,2596.2 895.1,2374.8 895.9,2337.4 896.7,2357.5 897.5,2342.9 898.3,2289.4 899.1,2369.7 899.9,2435.2 900.7,2394.3 901.5,2271.2 902.3,2339.2 903.1,2366.5 903.9,2285.4 904.7,2339.1 905.5,2296.1 906.3,2383.9 907.1,2320 907.9,2376.4 908.7,2495.9 909.5,2344.6 910.3,2386.8 911.1,2427.4 912,2323.1 912.8,2245.8 913.6,2327.3 914.4,2459.2 915.2,2326.7 916,2315.1 916.8,2366.9 917.6,2299.2 918.4,2398.3 919.2,2659.8 920,2373.1 920.8,2390.6 921.6,2284.4 922.4,2390.8 923.2,2305.7 924,2273.5 924.8,2275.6 925.6,2283.1 926.4,2378.2 927.2,2353.6 928,2274.3 928.8,2343.7 929.6,2308.2 930.4,2289 931.2,2473.6 932,2255.8 932.8,2402.3 933.6,2420.6 934.4,2380.8 935.2,2296.2 936,2293.7 936.8,2575.2 937.6,2539.7 938.4,2362.6 939.2,2301.8 940,2349.2 940.9,2364.9 941.7,2374.9 942.5,2311.3 943.3,2540 944.1,2349.9 944.9,2363.5 945.7,2338.5 946.5,2295.7 947.3,2317.9 948.1,2399.4 948.9,2394.4 949.7,2337.2 950.5,2373.4 951.3,2344 952.1,2356.5 952.9,2368.9 953.7,2411 954.5,2324.4 955.3,2325.9 956.1,2314 956.9,2291.4 957.7,2293.8 958.5,2361.6 959.3,2286.5 960.1,2326.8 960.9,2400.2 961.7,2312.4 962.5,2486.4 963.3,2436.1 964.1,2280.8 964.9,2399.7 965.7,2455.7 966.5,2327.5 967.3,2397.2 968.1,2371.1 969,2327.8 969.8,2394.2 970.6,2395.2 971.4,2253.3 972.2,2348.4 973,2531.4 973.8,2297.6 974.6,2292.3 975.4,2326.1 976.2,2289.8 977,2251.1 977.8,2545.2 978.6,2316.5 979.4,2350.5 980.2,2345.2 981,2359.8 981.8,2284.3 982.6,2392.4 983.4,2295.7 984.2,2304.5 985,2433.3 985.8,2363.2 986.6,2328.5 987.4,2319.4 988.2,2397.6 989,2339.1 989.8,2335.4 990.6,2412.4 991.4,2311.9 992.2,2397.4 993,2337.4 993.8,2335.9 994.6,2411 995.4,2394 996.2,2489.7 997,2285.1 997.9,2477.7 998.7,2344.2 999.5,2285 1000.3,2360.1 1001.1,2449.9 1001.9,2364.9 1002.7,2372.9 1003.5,2253.1 1004.3,2271.2 1005.1,2392.3 1005.9,2400.4 1006.7,2327.1 1007.5,2379.8 1008.3,2323.5 1009.1,2330.2 1009.9,2285.7 1010.7,2263.6 1011.5,2486.1 1012.3,2351.5 1013.1,2328.9 1013.9,2364 1014.7,2323.8 1015.5,2319.6 1016.3,2361.3 1017.1,2425.3 1017.9,2319.3 1018.7,2408.2 1019.5,2399.9 1020.3,2488.9 1021.1,2327.4 1021.9,2426.2 1022.7,2247 1023.5,2348.3 1024.3,2445.9 1025.1,2276.4 1026,2356.2 1026.8,2559.4 1027.6,2282.6 1028.4,2358.2 1029.2,2312.8 1030,2331.5 1030.8,2309.4 1031.6,2364.2 1032.4,2382.2 1033.2,2332.3 1034,2515.4 1034.8,2376.4 1035.6,2353.9 1036.4,2393.9 1037.2,2470.8 1038,2355.2 1038.8,2363.4 1039.6,2357.5 1040.4,2426.8 1041.2,2341.9 1042,2310.1 1042.8,2398.4 1043.6,2351 1044.4,2323.2 1045.2,2270.2 1046,2358 1046.8,2448.5 1047.6,2414.1 1048.4,2520.4 1049.2,2389.8 1050,2310.4 1050.8,2319.4 1051.6,2268.2 1052.4,2453.5 1053.2,2375.1 1054,2324.5 1054.9,2303.1 1055.7,2378 1056.5,2570.2 1057.3,2386.2 1058.1,2312.7 1058.9,2478.1 1059.7,2468.5 1060.5,2354.3 1061.3,2404.3 1062.1,2419.6 1062.9,2554.7 1063.7,2377.5 1064.5,2338 1065.3,2332.4 1066.1,2363.2 1066.9,2440.2 1067.7,2303.9 1068.5,2401.8 1069.3,2321.8 1070.1,2376.8 1070.9,2377.2 1071.7,2331.3 1072.5,2303.6 1073.3,2379.2 1074.1,2289.9 1074.9,2258.8 1075.7,2278.6 1076.5,2423.7 1077.3,2452.2 1078.1,2338.4 1078.9,2448.3 1079.7,2311.3 1080.5,2391.7 1081.3,2328.5 1082.1,2394.3 1083,2449.9 1083.8,2375.1 1084.6,2396.6 1085.4,2295.9 1086.2,2360.5 1087,2347.8 1087.8,2309.2 1088.6,2356.7 1089.4,2308.3 1090.2,2381.9 1091,2371.6 1091.8,2370.7 1092.6,2327.3 1093.4,2304.6 1094.2,2462.1 1095,2427 1095.8,2409.8 1096.6,2324 1097.4,2397.5 1098.2,2320.2 1099,2346.7 1099.8,2336 1100.6,2423.5 1101.4,2393.9 1102.2,2447.9 1103,2321.4 1103.8,2373.7 1104.6,2535.9 1105.4,2329 1106.2,2372.6 1107,2540.4 1107.8,2425.2 1108.6,2581.5 1109.4,2514.5 1110.2,2322.7 1111,2363 1111.9,2342.2 1112.7,2402.2 1113.5,2302.5 1114.3,2312.5 1115.1,2273.6 1115.9,2361.3 1116.7,2461.8 1117.5,2301 1118.3,2405.4 1119.1,2413.5 1119.9,2554.8 1120.7,2522.9 1121.5,2358.6 1122.3,2314.8 1123.1,2367.2 1123.9,2379.7 1124.7,2338 1125.5,2355.5 1126.3,2458.8 1127.1,2376 1127.9,2413 1128.7,2328 1129.5,2458.8 1130.3,2445.8 1131.1,2514.1 1131.9,2370.1 1132.7,2491.4 1133.5,2368.1 1134.3,2431.5 1135.1,2543.2 1135.9,2371.1 1136.7,2437 1137.5,2412.2 1138.3,2331.6 1139.1,2319.2 1140,2432.3 1140.8,2385.4 1141.6,2353.4 1142.4,2313.2 1143.2,2443.1 1144,2441.1 1144.8,2422.8 1145.6,2467.7 1146.4,2371.5 1147.2,2406.7 1148,2373.9 1148.8,2330 1149.6,2436.6 1150.4,2307.4 1151.2,2319.1 1152,2396.3 1152.8,2335.4 1153.6,2306.7 1154.4,2456.9 1155.2,2356.6 1156,2349.6 1156.8,2265.6 1157.6,2365.2 1158.4,2475.3 1159.2,2352.2 1160,2335.4 1160.8,2365.8 1161.6,2365.5 1162.4,2433.2 1163.2,2350.5 1164,2401.4 1164.8,2328.3 1165.6,2406.9 1166.4,2439.1 1167.2,2410.6 1168,2413.4 1168.9,2473.5 1169.7,2349.1 1170.5,2440.7 1171.3,2436.7 1172.1,2362.2 1172.9,2401 1173.7,2457.7 1174.5,2473.5 1175.3,2405.4 1176.1,2411.3 1176.9,2471.7 1177.7,2365.5 1178.5,2336.3 1179.3,2327 1180.1,2439.4 1180.9,2362.1 1181.7,2355.7 1182.5,2414 1183.3,2337 1184.1,2319.2 1184.9,2320.4 1185.7,2321.8 1186.5,2463.4 1187.3,2331.1 1188.1,2399.8 1188.9,2365.3 1189.7,2323.6 1190.5,2405.3 1191.3,2428.4 1192.1,2358.1 1192.9,2417.3 1193.7,2393.4 1194.5,2314.3 1195.3,2340.5 1196.1,2318.7 1197,2362.2 1197.8,2414.2 1198.6,2359.4 1199.4,2600.1 1200.2,2451.5 1201,2379.4 1201.8,2341.8 1202.6,2328.7 1203.4,2311.9 1204.2,2434.1 1205,2367.6 1205.8,2380.3 1206.6,2601.7 1207.4,2351.1 1208.2,2327.6 1209,2441.1 1209.8,2372.5 1210.6,2326.9 1211.4,2334.5 1212.2,2629.2 1213,2525.3 1213.8,2385.9 1214.6,2373.6 1215.4,2459.8 1216.2,2343.8 1217,2295.7 1217.8,2595 1218.6,2489.2 1219.4,2390 1220.2,2353.4 1221,2326.1 1221.8,2365.5 1222.6,2391.1 1223.4,2349.3 1224.2,2411.1 1225,2473 1225.9,2286.5 1226.7,2314.8 1227.5,2312.7 1228.3,2523.2 1229.1,2399.7 1229.9,2373.5 1230.7,2388.4 1231.5,2362.2 1232.3,2316.9 1233.1,2394.8 1233.9,2340.2 1234.7,2458.6 1235.5,2378 1236.3,2373.7 1237.1,2389.6 1237.9,2441.3 1238.7,2420.9 1239.5,2423.5 1240.3,2462.7 1241.1,2439.4 1241.9,2522.6 1242.7,2552.2 1243.5,2428 1244.3,2458.7 1245.1,2398.2 1245.9,2433.9 1246.7,2403.1 1247.5,2486.3 1248.3,2350.1 1249.1,2405.6 1249.9,2347.3 1250.7,2450.4 1251.5,2352.6 1252.3,2368.9 1253.1,2391.2 1254,2339.9 1254.8,2429.6 1255.6,2390.4 1256.4,2411.8 1257.2,2457.7 1258,2380 1258.8,2384.4 1259.6,2294.3 1260.4,2383.2 1261.2,2461.2 1262,2395.6 1262.8,2493.6 1263.6,2351.1 1264.4,2409 1265.2,2451.2 1266,2575.1 1266.8,2406.6 1267.6,2358.7 1268.4,2461.9 1269.2,2380.6 1270,2379.7 1270.8,2413.2 1271.6,2360 1272.4,2377.7 1273.2,2454.5 1274,2383.5 1274.8,2303 1275.6,2420.8 1276.4,2549.3 1277.2,2439.8 1278,2341.7 1278.8,2478.1 1279.6,2391 1280.4,2303.3 1281.2,2301.8 1282,2484.5 1282.9,2354.4 1283.7,2465.3 1284.5,2338.5 1285.3,2459.9 1286.1,2342.3 1286.9,2397.3 1287.7,2377.1 1288.5,2463 1289.3,2518.8 1290.1,2379.1 1290.9,2401.7 1291.7,2401.8 1292.5,2340.5 1293.3,2339.2 1294.1,2358.5 1294.9,2374.7 1295.7,2546.4 1296.5,2407.4 1297.3,2598.4 1298.1,2290.7 1298.9,2326.8 1299.7,2355.9 1300.5,2364.8 1301.3,2469.4 1302.1,2356.7 1302.9,2382 1303.7,2372.7 1304.5,2356.4 1305.3,2376.4 1306.1,2394.2 1306.9,2300.1 1307.7,2373.7 1308.5,2449.9 1309.3,2386.3 1310.1,2497 1311,2407.5 1311.8,2291.3 1312.6,2439.2 1313.4,2420.5 1314.2,2308.1 1315,2390.7 1315.8,2403.8 1316.6,2511 1317.4,2403.6 1318.2,2434.4 1319,2377.2 1319.8,2450.6 1320.6,2583.7 1321.4,2467.3 1322.2,2360.3 1323,2380.9 1323.8,2393.5 1324.6,2451.3 1325.4,2412.3 1326.2,2347.4 1327,2458.3 1327.8,2367.8 1328.6,2303.8 1329.4,2519.8 1330.2,2414.4 1331,2434.4 1331.8,2301.2 1332.6,2316.2 1333.4,2373.6 1334.2,2450 1335,2329 1335.8,2307.8 1336.6,2320.2 1337.4,2336.1 1338.2,2567 1339,2518.3 1339.9,2360.4 1340.7,2305.9 1341.5,2288.8 1342.3,2398.9 1343.1,2337.1 1343.9,2394.2 1344.7,2361.1 1345.5,2346.5 1346.3,2441 1347.1,2402.6 1347.9,2379.4 1348.7,2352.8 1349.5,2335.2 1350.3,2542.6 1351.1,2462.1 1351.9,2347.4 1352.7,2359.8 1353.5,2389.9 1354.3,2267.9 1355.1,2452.6 1355.9,2436.8 1356.7,2271.2 1357.5,2418.9 1358.3,2368.3 1359.1,2403.9 1359.9,2390.4 1360.7,2441 1361.5,2327.9 1362.3,2354.5 1363.1,2355.2 1363.9,2331.4 1364.7,2441.4 1365.5,2337.1 1366.3,2498 1367.1,2384.1 1368,2540.3 1368.8,2400.2 1369.6,2470.3 1370.4,2378.5 1371.2,2375.3 1372,2384.3 1372.8,2400.1 1373.6,2375.2 1374.4,2512.3 1375.2,2378.5 1376,2389.4 1376.8,2482.4 1377.6,2417.6 1378.4,2537.7 1379.2,2330.2 1380,2395.3 1380.8,2423.3 1381.6,2424.4 1382.4,2459.9 1383.2,2406.5 1384,2359.4 1384.8,2337.7 1385.6,2353.3 1386.4,2391.7 1387.2,2354.3 1388,2298.9 1388.8,2326.9 1389.6,2522.9 1390.4,2325.4 1391.2,2568.4 1392,2376 1392.8,2389.6 1393.6,2311.3 1394.4,2387.7 1395.2,2431.2 1396,2421.3 1396.9,2353.3 1397.7,2605.5 1398.5,2381.5 1399.3,2422.2 1400.1,2371.1 1400.9,2429.7 1401.7,2561.5 1402.5,2561.4 1403.3,2325.4 1404.1,2398.3 1404.9,2448.8 1405.7,2325.2 1406.5,2424.1 1407.3,2380 1408.1,2277.1 1408.9,2381.5 1409.7,2291.9 1410.5,2430.7 1411.3,2532.8 1412.1,2308.8 1412.9,2362.7 1413.7,2387.3 1414.5,2473.7 1415.3,2462.6 1416.1,2612.6 1416.9,2441.4 1417.7,2351.4 1418.5,2299.7 1419.3,2512.2 1420.1,2470.9 1420.9,2358.7 1421.7,2408.5 1422.5,2303 1423.3,2350.2 1424.1,2373.9 1425,2455.5 1425.8,2341.1 1426.6,2506.1 1427.4,2488.9 1428.2,2384.3 1429,2347.5 1429.8,2389 1430.6,2401.4 1431.4,2420.4 1432.2,2309.3 1433,2350.4 1433.8,2302.2 1434.6,2528.6 1435.4,2471.9 1436.2,2379 1437,2346.7 1437.8,2439.5 1438.6,2437.6 1439.4,2456 1440.2,2344.1 1441,2421.1 1441.8,2407.5 1442.6,2385 1443.4,2394.2 1444.2,2455.2 1445,2396 1445.8,2379.7 1446.6,2403.1 1447.4,2485.4 1448.2,2407.1 1449,2489 1449.8,2425.7 1450.6,2402.5 1451.4,2395.6 1452.2,2411.7 1453,2376.1 1453.9,2366.3 1454.7,2395.9 1455.5,2518.9 1456.3,2346.8 1457.1,2343.6 1457.9,2438.6 1458.7,2412.5 1459.5,2369.7 1460.3,2337 1461.1,2428.4 1461.9,2437.2 1462.7,2380 1463.5,2468.3 1464.3,2484.6 1465.1,2306.7 1465.9,2405.2 1466.7,2412 1467.5,2529.3 1468.3,2367.1 1469.1,2417.2 1469.9,2577.4 1470.7,2389.6 1471.5,2522.3 1472.3,2378.2 1473.1,2402.1 1473.9,2507.6 1474.7,2539.3 1475.5,2371.4 1476.3,2347.2 1477.1,2448.4 1477.9,2365.8 1478.7,2499.7 1479.5,2464.5 1480.3,2516.1 1481.1,2443.6 1482,2463.3 1482.8,2562.2 1483.6,2377 1484.4,2319.5 1485.2,2341.6 1486,2383.7 1486.8,2344.1 1487.6,2439.6 1488.4,2405.8 1489.2,2427.5 1490,2361.8 1490.8,2413.1 1491.6,2348.8 1492.4,2350 1493.2,2300.1 1494,2413.2 1494.8,2453.4 1495.6,2382.1 1496.4,2337.8 1497.2,2573.1 1498,2443 1498.8,2361.6 1499.6,2514.2 1500.4,2456.9 1501.2,2416.4 1502,2453.1 1502.8,2397.2 1503.6,2467.3 1504.4,2371.8 1505.2,2364.9 1506,2475.4 1506.8,2475.2 1507.6,2450.3 1508.4,2391.5 1509.2,2383.4 1510,2337 1510.9,2435.5 1511.7,2433.2 1512.5,2418.5 1513.3,2409.2 1514.1,2540.8 1514.9,2303 1515.7,2386.9 1516.5,2485.4 1517.3,2366.4 1518.1,2357.2 1518.9,2424.4 1519.7,2349.7 1520.5,2474.1 1521.3,2482.9 1522.1,2364.9 1522.9,2370.3 1523.7,2436.2 1524.5,2505.1 1525.3,2532.4 1526.1,2385.2 1526.9,2378.4 1527.7,2405.4 1528.5,2506.5 1529.3,2438.4 1530.1,2397.1 1530.9,2325.4 1531.7,2478.2 1532.5,2527.5 1533.3,2320.8 1534.1,2361.9 1534.9,2357.3 1535.7,2356.7 1536.5,2431.9 1537.3,2363.4 1538.1,2345.6 1539,2452.5 1539.8,2452.2 1540.6,2373.6 1541.4,2359.9 1542.2,2351.8 1543,2315.5 1543.8,2378.5 1544.6,2372.6 1545.4,2455.9 1546.2,2486.9 1547,2416.9 1547.8,2433.8 1548.6,2377 1549.4,2327.4 1550.2,2366.2 1551,2405.4 1551.8,2439.1 1552.6,2398.4 1553.4,2399 1554.2,2431.8 1555,2378.6 1555.8,2418.4 1556.6,2466.1 1557.4,2328.5 1558.2,2408.6 1559,2412.2 1559.8,2366.6 1560.6,2417.9 1561.4,2490.9 1562.2,2467.4 1563,2542.3 1563.8,2469.6 1564.6,2659.8 1565.4,2424.3 1566.2,2406.5 1567,2514.8 1567.9,2472 1568.7,2426.7 1569.5,2440.7 1570.3,2490.8 1571.1,2416.1 1571.9,2423.2 1572.7,2412 1573.5,2427.5 1574.3,2397.6 1575.1,2385.2 1575.9,2440.3 1576.7,2448.3 1577.5,2434.5 1578.3,2381.3 1579.1,2435 1579.9,2418.1 1580.7,2428.4 1581.5,2383.6" fill="none" stroke="#0a0af5" stroke-width="2.7" stroke-linejoin="round" stroke-miterlimit="20" clip-path="url(#c02)"/>
<polyline points="1953.5,2180.2 1954.3,2129.9 1955.1,2153.9 1955.9,2102.9 1956.7,2110.3 1957.5,2163.4 1958.3,2227.8 1959.1,2158.3 1959.9,2172.1 1960.7,2200.4 1961.5,2159.3 1962.3,2197.1 1963.1,2300.2 1963.9,2240.3 1964.7,2126.6 1965.5,2228.6 1966.3,2323 1967.1,2204 1967.9,2192.3 1968.7,2218 1969.5,2366 1970.3,2257.2 1971.1,2306.9 1971.9,2272.1 1972.7,2234.1 1973.6,2305.9 1974.4,2277 1975.2,2254 1976,2297 1976.8,2212.5 1977.6,2215.9 1978.4,2285.9 1979.2,2213.7 1980,2264.3 1980.8,2268.4 1981.6,2297.7 1982.4,2293.4 1983.2,2270.2 1984,2288.6 1984.8,2283.3 1985.6,2274 1986.4,2331.1 1987.2,2258.8 1988,2301.3 1988.8,2305.3 1989.6,2262.7 1990.4,2405.7 1991.2,2339 1992,2372.7 1992.8,2253 1993.6,2273 1994.4,2357.9 1995.2,2297.1 1996,2283.4 1996.8,2272.7 1997.6,2386.9 1998.4,2267.1 1999.2,2416.4 2000,2276.6 2000.8,2333.5 2001.6,2263.1 2002.4,2277.7 2003.2,2314 2004,2378.6 2004.8,2349.1 2005.6,2247.7 2006.4,2239.9 2007.2,2275 2008,2274.8 2008.8,2233.4 2009.6,2375.4 2010.4,2315.1 2011.2,2334.3 2012.1,2309.2 2012.9,2409.6 2013.7,2284.7 2014.5,2253.4 2015.3,2279.5 2016.1,2309 2016.9,2266 2017.7,2269.6 2018.5,2429.8 2019.3,2274.8 2020.1,2335.3 2020.9,2350 2021.7,2349.1 2022.5,2269.6 2023.3,2327.6 2024.1,2298.6 2024.9,2292.8 2025.7,2358.7 2026.5,2322.1 2027.3,2338.4 2028.1,2403 2028.9,2276.9 2029.7,2264.2 2030.5,2270.3 2031.3,2420 2032.1,2324.4 2032.9,2406.3 2033.7,2292.6 2034.5,2283.8 2035.3,2325 2036.1,2281.5 2036.9,2279 2037.7,2298.7 2038.5,2337.9 2039.3,2345.7 2040.1,2262 2040.9,2313.3 2041.7,2333 2042.5,2305 2043.3,2275.3 2044.1,2312.3 2044.9,2316.2 2045.7,2286.5 2046.5,2326.4 2047.3,2307.7 2048.1,2328.5 2048.9,2280.7 2049.7,2309.3 2050.6,2297.8 2051.4,2332.2 2052.2,2395.4 2053,2326.2 2053.8,2370.1 2054.6,2369.2 2055.4,2323.6 2056.2,2285.9 2057,2278.7 2057.8,2312.2 2058.6,2340.3 2059.4,2338.6 2060.2,2350 2061,2353.3 2061.8,2326.2 2062.6,2276 2063.4,2329.4 2064.2,2309.3 2065,2330.9 2065.8,2417.1 2066.6,2341.2 2067.4,2302.9 2068.2,2328.2 2069,2334.5 2069.8,2271.3 2070.6,2276.4 2071.4,2264.2 2072.2,2278.5 2073,2363.9 2073.8,2346.4 2074.6,2255.8 2075.4,2290.3 2076.2,2383.3 2077,2315.4 2077.8,2294.8 2078.6,2333.6 2079.4,2261.1 2080.2,2298.7 2081,2320 2081.8,2302.9 2082.6,2330.4 2083.4,2326.4 2084.2,2307 2085,2337.1 2085.8,2326.8 2086.6,2334.2 2087.4,2313.2 2088.2,2287.2 2089.1,2303.6 2089.9,2421 2090.7,2340.8 2091.5,2344.4 2092.3,2334.5 2093.1,2275.5 2093.9,2374.5 2094.7,2290.8 2095.5,2391.1 2096.3,2325.9 2097.1,2336.5 2097.9,2469.3 2098.7,2305.2 2099.5,2296 2100.3,2346.3 2101.1,2509.9 2101.9,2300 2102.7,2434.7 2103.5,2269.5 2104.3,2421.1 2105.1,2306.3 2105.9,2383.1 2106.7,2288.5 2107.5,2276.3 2108.3,2224.4 2109.1,2347.5 2109.9,2275.8 2110.7,2282.2 2111.5,2276.1 2112.3,2229.6 2113.1,2292.8 2113.9,2218.8 2114.7,2409.5 2115.5,2301.1 2116.3,2291.9 2117.1,2292.7 2117.9,2365.1 2118.7,2278.3 2119.5,2280.3 2120.3,2305.6 2121.1,2277.8 2121.9,2230.4 2122.7,2408.8 2123.5,2277.5 2124.3,2342.6 2125.1,2341.8 2125.9,2240.6 2126.7,2470 2127.6,2273.8 2128.4,2325.8 2129.2,2363.7 2130,2333.5 2130.8,2296.5 2131.6,2267.6 2132.4,2277.2 2133.2,2333.9 2134,2255.3 2134.8,2344.6 2135.6,2270.4 2136.4,2335.7 2137.2,2272.2 2138,2303.7 2138.8,2358.1 2139.6,2246.9 2140.4,2267.3 2141.2,2298.2 2142,2247.7 2142.8,2258.3 2143.6,2364.5 2144.4,2278.1 2145.2,2290.9 2146,2249 2146.8,2216.6 2147.6,2258.2 2148.4,2245.7 2149.2,2337.7 2150,2330.4 2150.8,2272.1 2151.6,2330.2 2152.4,2290.6 2153.2,2302.6 2154,2263.9 2154.8,2295.6 2155.6,2659.8 2156.4,2269.7 2157.2,2279.4 2158,2233.8 2158.8,2171.1 2159.6,2256.1 2160.4,2211 2161.2,2255 2162,2240.4 2162.8,2243.9 2163.6,2228.8 2164.4,2344.7 2165.2,2185.7 2166.1,2299.2 2166.9,2215.8 2167.7,2197 2168.5,2197 2169.3,2140.7 2170.1,2292 2170.9,2167.4 2171.7,2291.9 2172.5,2153.6 2173.3,2137.3 2174.1,2170.6 2174.9,2134.6 2175.7,2126.7 2176.5,2307.2 2177.3,2083.4 2178.1,2062.2 2178.9,2122.6 2179.7,2144.2 2180.5,2055.4 2181.3,2037.2 2182.1,1984 2182.9,1946.9 2183.7,1920.1 2184.5,1958.9 2185.3,1985.3 2186.1,2028.2 2186.9,2047.1 2187.7,1986.8 2188.5,2049.4 2189.3,2046.9 2190.1,2088.9 2190.9,2127.7 2191.7,2130.3 2192.5,2174.5 2193.3,2146.8 2194.1,2148.6 2194.9,2172.1 2195.7,2254.3 2196.5,2241.3 2197.3,2206.7 2198.1,2195.6 2198.9,2286.8 2199.7,2221 2200.5,2252.7 2201.3,2315.2 2202.1,2231.4 2202.9,2398.9 2203.7,2256.2 2204.5,2198.5 2205.4,2242.5 2206.2,2386.3 2207,2254.2 2207.8,2365.7 2208.6,2262.6 2209.4,2239.4 2210.2,2228.2 2211,2248.4 2211.8,2241.6 2212.6,2273.9 2213.4,2249.3 2214.2,2235.2 2215,2245 2215.8,2229.4 2216.6,2282.2 2217.4,2292.8 2218.2,2282.7 2219,2370.8 2219.8,2248.6 2220.6,2281 2221.4,2335.4 2222.2,2335.5 2223,2288.3 2223.8,2292.3 2224.6,2229.7 2225.4,2310.8 2226.2,2292.4 2227,2295.3 2227.8,2321.4 2228.6,2244.6 2229.4,2378.1 2230.2,2315.9 2231,2344.4 2231.8,2279.5 2232.6,2306.1 2233.4,2321.2 2234.2,2329.9 2235,2329.6 2235.8,2319.7 2236.6,2380 2237.4,2262.4 2238.2,2340.3 2239,2268.5 2239.8,2303.6 2240.6,2359 2241.4,2243.4 2242.2,2438.5 2243,2249.2 2243.9,2301.3 2244.7,2364.2 2245.5,2355 2246.3,2345.7 2247.1,2245.2 2247.9,2220.7 2248.7,2281.4 2249.5,2270.9 2250.3,2305.6 2251.1,2393.4 2251.9,2320.5 2252.7,2271 2253.5,2435.2 2254.3,2302.5 2255.1,2313.1 2255.9,2415.8 2256.7,2292.6 2257.5,2383.3 2258.3,2305.6 2259.1,2265.7 2259.9,2308 2260.7,2338.4 2261.5,2313.7 2262.3,2344.3 2263.1,2289.7 2263.9,2347.7 2264.7,2365.8 2265.5,2330.7 2266.3,2299.9 2267.1,2292 2267.9,2316.8 2268.7,2308.7 2269.5,2322.3 2270.3,2250.1 2271.1,2339.1 2271.9,2294.5 2272.7,2368.5 2273.5,2322.7 2274.3,2334.9 2275.1,2296.8 2275.9,2273 2276.7,2338.1 2277.5,2373.1 2278.3,2283.6 2279.1,2310.6 2279.9,2358.4 2280.7,2334.1 2281.5,2309.7 2282.4,2337.4 2283.2,2267 2284,2363.6 2284.8,2261.8 2285.6,2303.2 2286.4,2290 2287.2,2319.6 2288,2335.8 2288.8,2298.2 2289.6,2387.7 2290.4,2294.9 2291.2,2344.5 2292,2358.2 2292.8,2293.8 2293.6,2349.5 2294.4,2404 2295.2,2330.9 2296,2332.2 2296.8,2345.4 2297.6,2382 2298.4,2285.6 2299.2,2324.1 2300,2335.9 2300.8,2388 2301.6,2331 2302.4,2331 2303.2,2317.2 2304,2273.4 2304.8,2388.1 2305.6,2305.1 2306.4,2312.5 2307.2,2417.9 2308,2303.5 2308.8,2343.9 2309.6,2429.1 2310.4,2357.8 2311.2,2327.9 2312,2294.1 2312.8,2403.2 2313.6,2274.6 2314.4,2324.6 2315.2,2367.5 2316,2299.5 2316.8,2298.7 2317.6,2363.3 2318.4,2364.8 2319.2,2270 2320,2274.6 2320.9,2322.6 2321.7,2373 2322.5,2453.9 2323.3,2371.4 2324.1,2263.7 2324.9,2297.8 2325.7,2313.4 2326.5,2361.1 2327.3,2320.3 2328.1,2258.2 2328.9,2493.7 2329.7,2290.7 2330.5,2353.8 2331.3,2336.9 2332.1,2341.7 2332.9,2381.3 2333.7,2359 2334.5,2296.2 2335.3,2327.6 2336.1,2468.4 2336.9,2331.5 2337.7,2332.4 2338.5,2350.6 2339.3,2258.6 2340.1,2335.4 2340.9,2312 2341.7,2337.5 2342.5,2405.2 2343.3,2353.9 2344.1,2367.5 2344.9,2415.3 2345.7,2355.1 2346.5,2352.3 2347.3,2428.7 2348.1,2308.2 2348.9,2409.5 2349.7,2419.5 2350.5,2363 2351.3,2384.4 2352.1,2356.8 2352.9,2374.5 2353.7,2322.4 2354.5,2378.4 2355.3,2424.1 2356.1,2331.3 2356.9,2382.6 2357.7,2350.9 2358.5,2296.9 2359.4,2532.2 2360.2,2306.4 2361,2322.5 2361.8,2342.2 2362.6,2330.2 2363.4,2413.1 2364.2,2363.3 2365,2382 2365.8,2404.6 2366.6,2391.8 2367.4,2249.5 2368.2,2336.3 2369,2272.9 2369.8,2323.2 2370.6,2369.6 2371.4,2321.6 2372.2,2349.9 2373,2438.3 2373.8,2369.3 2374.6,2387 2375.4,2325.8 2376.2,2309.6 2377,2307.4 2377.8,2319.8 2378.6,2294.5 2379.4,2365.1 2380.2,2328.7 2381,2327.8 2381.8,2402.4 2382.6,2375.3 2383.4,2319 2384.2,2344.2 2385,2315.5 2385.8,2342.9 2386.6,2273.6 2387.4,2346.7 2388.2,2332.9 2389,2326.7 2389.8,2325.3 2390.6,2325.9 2391.4,2353.3 2392.2,2426.2 2393,2408.5 2393.8,2486 2394.6,2428.7 2395.4,2350.9 2396.2,2345.7 2397,2308.3 2397.8,2350.2 2398.7,2346.2 2399.5,2364.9 2400.3,2391.4 2401.1,2466 2401.9,2386.8 2402.7,2450.9 2403.5,2416.2 2404.3,2348.6 2405.1,2296.2 2405.9,2303.2 2406.7,2302.8 2407.5,2349.1 2408.3,2311.2 2409.1,2304.5 2409.9,2337.8 2410.7,2320.2 2411.5,2475.7 2412.3,2268.9 2413.1,2350.8 2413.9,2350.2 2414.7,2328.3 2415.5,2319.5 2416.3,2289.4 2417.1,2391.9 2417.9,2310 2418.7,2339 2419.5,2403.5 2420.3,2365.6 2421.1,2353.8 2421.9,2366.9 2422.7,2336.7 2423.5,2376.6 2424.3,2405.1 2425.1,2368.9 2425.9,2294.4 2426.7,2329 2427.5,2328.6 2428.3,2458.5 2429.1,2368.1 2429.9,2386.9 2430.7,2359.6 2431.5,2360.7 2432.3,2355.3 2433.1,2418.1 2433.9,2296.8 2434.7,2330.2 2435.5,2374.5 2436.3,2339.7 2437.2,2367.3 2438,2416.2 2438.8,2413.8 2439.6,2365.1 2440.4,2395.2 2441.2,2304.5 2442,2399.3 2442.8,2319.5 2443.6,2423.9 2444.4,2300.3 2445.2,2381 2446,2364.6 2446.8,2308.3 2447.6,2443.9 2448.4,2404.9 2449.2,2470.5 2450,2341.1 2450.8,2340.7 2451.6,2337.5 2452.4,2480.2 2453.2,2343.8 2454,2399 2454.8,2392.1 2455.6,2401.6 2456.4,2396 2457.2,2322.4 2458,2390.9 2458.8,2330.7 2459.6,2384.5 2460.4,2410.1 2461.2,2489.8 2462,2531.2 2462.8,2401.2 2463.6,2346.9 2464.4,2349.5 2465.2,2344 2466,2336.8 2466.8,2472.7 2467.6,2349.9 2468.4,2305.3 2469.2,2328.2 2470,2301.7 2470.8,2432.9 2471.6,2286.3 2472.4,2424.2 2473.2,2307 2474,2379.9 2474.8,2366.1 2475.7,2323.4 2476.5,2375.2 2477.3,2326.7 2478.1,2296.8 2478.9,2363.9 2479.7,2359.4 2480.5,2433.2 2481.3,2328.9 2482.1,2320.6 2482.9,2327.3 2483.7,2317 2484.5,2353.5 2485.3,2381.4 2486.1,2302.4 2486.9,2354.3 2487.7,2272.8 2488.5,2295.8 2489.3,2302.3 2490.1,2356 2490.9,2320.4 2491.7,2363.4 2492.5,2368.4 2493.3,2341.6 2494.1,2311.3 2494.9,2309.5 2495.7,2348.1 2496.5,2285.9 2497.3,2404.6 2498.1,2323.8 2498.9,2267.8 2499.7,2310 2500.5,2335.6 2501.3,2357.1 2502.1,2395.5 2502.9,2352.9 2503.7,2304.3 2504.5,2344.2 2505.3,2339.7 2506.1,2272 2506.9,2340.4 2507.7,2422.8 2508.5,2355.3 2509.3,2385.9 2510.1,2312.7 2510.9,2369.9 2511.7,2339.1 2512.5,2333.1 2513.3,2374.3 2514.2,2376.8 2515,2342.5 2515.8,2349.9 2516.6,2364.1 2517.4,2372 2518.2,2321.9 2519,2330.1 2519.8,2341.9 2520.6,2348.6 2521.4,2387.4 2522.2,2324.8 2523,2409.8 2523.8,2338.7 2524.6,2332.3 2525.4,2331.2 2526.2,2371.4 2527,2413.3 2527.8,2343.7 2528.6,2354.9 2529.4,2309.3 2530.2,2324.1 2531,2363.9 2531.8,2320.3 2532.6,2401.4 2533.4,2361.5 2534.2,2302.4 2535,2353.8 2535.8,2557.7 2536.6,2394.7 2537.4,2405.9 2538.2,2417.3 2539,2406.8 2539.8,2411.4 2540.6,2406.2 2541.4,2415.9 2542.2,2365.7 2543,2333.1 2543.8,2378.6 2544.6,2335.5 2545.4,2369.8 2546.2,2297.6 2547,2341.7 2547.8,2383.1 2548.6,2351.4 2549.4,2411.3 2550.2,2342.8 2551,2351.8 2551.8,2442.9 2552.7,2437.3 2553.5,2358 2554.3,2457.6 2555.1,2336.7 2555.9,2383.6 2556.7,2355.9 2557.5,2345.6 2558.3,2343.7 2559.1,2363.5 2559.9,2328.3 2560.7,2459.7 2561.5,2468.6 2562.3,2312.5 2563.1,2380.9 2563.9,2300 2564.7,2378.9 2565.5,2341.4 2566.3,2382.5 2567.1,2427.2 2567.9,2326.9 2568.7,2371.4 2569.5,2363.8 2570.3,2475.6 2571.1,2376.2 2571.9,2443.6 2572.7,2323.7 2573.5,2361.9 2574.3,2292 2575.1,2351.5 2575.9,2358.4 2576.7,2318.3 2577.5,2379.7 2578.3,2347.8 2579.1,2340 2579.9,2321.4 2580.7,2381 2581.5,2414.3 2582.3,2438.1 2583.1,2423.5 2583.9,2375.1 2584.7,2370.8 2585.5,2367.7 2586.3,2334.9 2587.1,2353.4 2587.9,2324.5 2588.7,2395.3 2589.5,2389.4 2590.3,2322.8 2591.2,2332.5 2592,2314.6 2592.8,2278.3 2593.6,2412.9 2594.4,2309.4 2595.2,2423.5 2596,2305.6 2596.8,2308.9 2597.6,2354.6 2598.4,2386.7 2599.2,2334.7 2600,2436.4 2600.8,2383 2601.6,2372.1 2602.4,2403.4 2603.2,2376.5 2604,2361.7 2604.8,2334.1 2605.6,2322.7 2606.4,2322.7 2607.2,2378.2 2608,2378.2 2608.8,2397.3 2609.6,2315.8 2610.4,2378.5 2611.2,2423.5 2612,2401.2 2612.8,2362.5 2613.6,2334.7 2614.4,2384.9 2615.2,2402.3 2616,2376.4 2616.8,2390.6 2617.6,2384.6 2618.4,2350.6 2619.2,2344.6 2620,2577.6 2620.8,2348.6 2621.6,2363.8 2622.4,2472.6 2623.2,2380.3 2624,2376.9 2624.8,2373.5 2625.6,2314.7 2626.4,2371.1 2627.2,2413.9 2628,2334.3 2628.8,2323.1 2629.6,2324.6 2630.5,2354.8 2631.3,2282.7 2632.1,2659.8 2632.9,2369.6 2633.7,2422.2 2634.5,2348.6 2635.3,2345.9 2636.1,2391.2 2636.9,2473.8 2637.7,2413.6 2638.5,2361.9 2639.3,2394.5 2640.1,2371.7 2640.9,2427.5 2641.7,2367.4 2642.5,2359.5 2643.3,2300.3 2644.1,2390 2644.9,2346.9 2645.7,2338.3 2646.5,2304.6 2647.3,2416.3 2648.1,2428.9 2648.9,2363.1 2649.7,2318.3 2650.5,2366.7 2651.3,2336.4 2652.1,2321.3 2652.9,2367.3 2653.7,2413.2 2654.5,2482.6 2655.3,2313.6 2656.1,2373.1 2656.9,2513.5 2657.7,2359.9 2658.5,2381 2659.3,2327.6 2660.1,2359.2 2660.9,2299.5 2661.7,2322.5 2662.5,2400.3 2663.3,2398 2664.1,2369.5 2664.9,2375.1 2665.7,2371.5 2666.5,2460.8 2667.3,2452.2 2668.1,2455.9 2669,2601.8 2669.8,2339.3 2670.6,2348.3 2671.4,2348.8 2672.2,2352 2673,2344.8 2673.8,2375.6 2674.6,2376.3 2675.4,2387.2 2676.2,2377.2 2677,2353.1 2677.8,2371.5 2678.6,2381.2 2679.4,2324.6 2680.2,2341.7 2681,2553.4 2681.8,2416.6 2682.6,2332.2 2683.4,2470.2 2684.2,2338.3 2685,2353.9 2685.8,2375.2 2686.6,2394.5 2687.4,2376.9 2688.2,2392.5 2689,2335 2689.8,2335.5 2690.6,2354.1 2691.4,2438 2692.2,2355.5 2693,2334.5 2693.8,2354.4 2694.6,2380.9 2695.4,2346.5 2696.2,2323.2 2697,2311.5 2697.8,2422.9 2698.6,2416.6 2699.4,2340.7 2700.2,2343.4 2701,2385 2701.8,2343.6 2702.6,2352.9 2703.4,2376.4 2704.2,2402.9 2705,2373.9 2705.8,2398.3 2706.6,2462.8 2707.5,2397.8 2708.3,2493.2 2709.1,2404 2709.9,2388.3 2710.7,2362.2 2711.5,2445.5 2712.3,2379.3 2713.1,2385.1 2713.9,2435.1 2714.7,2349.9 2715.5,2409.9 2716.3,2357.5 2717.1,2426.8 2717.9,2536.7 2718.7,2344.9 2719.5,2365.8 2720.3,2593.8 2721.1,2391.9 2721.9,2375 2722.7,2383.9 2723.5,2486.9 2724.3,2395.1 2725.1,2383.2 2725.9,2470.1 2726.7,2551.7 2727.5,2374.1 2728.3,2365.7 2729.1,2439.2 2729.9,2334 2730.7,2415.4 2731.5,2379.7 2732.3,2306.8 2733.1,2375.8 2733.9,2393.7 2734.7,2362 2735.5,2368.6 2736.3,2371.5 2737.1,2359.5 2737.9,2388.7 2738.7,2377.1 2739.5,2415.3 2740.3,2437 2741.1,2338 2741.9,2391.5 2742.7,2374.1 2743.5,2424.1 2744.3,2383.2 2745.1,2366.7 2746,2365.9 2746.8,2415.1 2747.6,2399.5 2748.4,2412 2749.2,2339.4 2750,2338.8 2750.8,2384.8 2751.6,2406.5 2752.4,2364.7 2753.2,2404.9 2754,2338.1 2754.8,2357.6 2755.6,2370.1 2756.4,2313.8 2757.2,2374.5 2758,2384.9 2758.8,2366.4 2759.6,2396.7 2760.4,2381.9 2761.2,2358.1 2762,2476.6 2762.8,2381.9 2763.6,2359.2 2764.4,2370.2 2765.2,2415.9 2766,2374.1 2766.8,2405.7 2767.6,2316.4 2768.4,2399.6 2769.2,2428.9 2770,2335.7 2770.8,2433.4 2771.6,2367.4 2772.4,2379.1 2773.2,2380.4 2774,2345.6 2774.8,2381.5 2775.6,2381.7 2776.4,2394.5 2777.2,2392.5 2778,2411.4 2778.8,2407.3 2779.6,2368.6 2780.4,2374.3 2781.2,2417.6 2782,2430.6 2782.8,2439.6 2783.6,2396 2784.5,2414 2785.3,2446 2786.1,2385 2786.9,2362.8 2787.7,2387.2 2788.5,2361.2 2789.3,2337.1 2790.1,2374.6 2790.9,2322.2 2791.7,2517.7 2792.5,2381.1 2793.3,2378.6 2794.1,2350.8 2794.9,2379.6 2795.7,2321.2 2796.5,2326 2797.3,2350.3 2798.1,2426 2798.9,2380.3 2799.7,2458.7 2800.5,2330.3 2801.3,2406.5 2802.1,2413.1 2802.9,2371.3 2803.7,2331.7 2804.5,2368.2 2805.3,2391.4 2806.1,2350.9 2806.9,2341.1 2807.7,2435.4 2808.5,2377.1 2809.3,2493 2810.1,2359.8 2810.9,2307.7 2811.7,2320.5 2812.5,2442 2813.3,2337.6 2814.1,2361.5 2814.9,2358.5 2815.7,2344.3 2816.5,2329 2817.3,2394.2 2818.1,2416.2 2818.9,2357.7 2819.7,2380.3 2820.5,2327.6 2821.3,2299.4 2822.1,2401.2 2822.9,2394.8 2823.8,2346 2824.6,2440.6 2825.4,2326.7 2826.2,2408.3 2827,2426.1 2827.8,2325.9 2828.6,2365.8 2829.4,2415 2830.2,2395.5 2831,2391.8 2831.8,2372.4 2832.6,2441.8 2833.4,2338.4 2834.2,2372.7 2835,2327.3 2835.8,2337.6 2836.6,2374.7 2837.4,2322 2838.2,2364.9 2839,2336.8 2839.8,2345.9 2840.6,2369.5 2841.4,2360.2 2842.2,2352.6 2843,2369.8 2843.8,2408.2 2844.6,2404.6 2845.4,2419.4 2846.2,2442.1 2847,2396.5 2847.8,2363.4 2848.6,2360.8 2849.4,2343.4 2850.2,2381.5 2851,2362.8 2851.8,2386.5 2852.6,2329.9 2853.4,2302.7 2854.2,2363.9 2855,2372.6 2855.8,2397 2856.6,2339.1 2857.4,2357.8 2858.2,2449.7 2859,2318.7 2859.8,2374.7 2860.6,2303 2861.4,2377.6 2862.3,2356 2863.1,2377.7 2863.9,2359 2864.7,2350.4 2865.5,2378.4 2866.3,2427.6 2867.1,2324.1 2867.9,2411.6 2868.7,2349.7 2869.5,2383.1 2870.3,2433.1 2871.1,2368.6 2871.9,2377 2872.7,2348.9 2873.5,2344.5 2874.3,2412.2 2875.1,2390.1 2875.9,2375.5 2876.7,2421.3 2877.5,2360.8 2878.3,2325.7 2879.1,2395.4 2879.9,2417.1 2880.7,2354.5 2881.5,2372.4 2882.3,2360.7 2883.1,2347.4 2883.9,2388.6 2884.7,2356.6 2885.5,2515.7 2886.3,2329.1 2887.1,2535.1 2887.9,2324.7 2888.7,2395.3 2889.5,2375 2890.3,2342.6 2891.1,2327.5 2891.9,2448.9 2892.7,2335.3 2893.5,2459.7 2894.3,2325.1 2895.1,2393.8 2895.9,2363.6 2896.7,2401.5 2897.5,2371.8 2898.3,2363.3 2899.1,2560.1 2899.9,2353.9 2900.8,2346.1 2901.6,2339.6 2902.4,2378.1 2903.2,2423 2904,2340.7 2904.8,2423.4 2905.6,2358.9 2906.4,2431.7 2907.2,2423 2908,2361.2 2908.8,2384.6 2909.6,2387.2 2910.4,2368.3 2911.2,2410.6 2912,2393.7 2912.8,2376 2913.6,2352 2914.4,2406.4 2915.2,2421.9 2916,2412.5 2916.8,2478.1 2917.6,2380 2918.4,2433.3 2919.2,2424.2 2920,2430.1 2920.8,2357.5 2921.6,2361.7 2922.4,2356.1 2923.2,2433 2924,2354.8 2924.8,2351.2 2925.6,2384.4 2926.4,2407.4 2927.2,2327.1 2928,2403.5 2928.8,2293.3 2929.6,2365.5 2930.4,2352.1 2931.2,2390.4 2932,2386.3 2932.8,2378.6 2933.6,2388.7 2934.4,2377.1 2935.2,2386 2936,2357.7 2936.8,2337.8 2937.6,2461.6 2938.4,2365.2 2939.3,2460.3 2940.1,2421.4 2940.9,2385.8 2941.7,2417.3 2942.5,2387.1 2943.3,2434 2944.1,2370.6 2944.9,2368.3 2945.7,2460.3 2946.5,2391.4 2947.3,2461.1 2948.1,2410.5 2948.9,2369.8 2949.7,2444.9 2950.5,2417.5 2951.3,2407.3 2952.1,2419.7 2952.9,2403.7 2953.7,2389.8 2954.5,2382.5 2955.3,2427.3 2956.1,2487 2956.9,2416.8 2957.7,2393.1 2958.5,2454.9 2959.3,2402.1 2960.1,2356.9 2960.9,2374.9 2961.7,2369 2962.5,2397.5 2963.3,2379.6 2964.1,2321 2964.9,2373.9 2965.7,2417.9 2966.5,2378.4 2967.3,2380.7 2968.1,2442.2 2968.9,2421.6 2969.7,2498.1 2970.5,2393.6 2971.3,2389.4 2972.1,2412.9 2972.9,2361.3 2973.7,2377.8 2974.5,2372 2975.3,2323.1 2976.1,2350.3 2976.9,2440.6 2977.8,2425.5 2978.6,2369.9 2979.4,2397.3 2980.2,2380.3 2981,2425.4 2981.8,2403.8 2982.6,2386.4 2983.4,2486.8 2984.2,2440.4 2985,2397.5 2985.8,2433.1 2986.6,2417.9 2987.4,2424.2 2988.2,2394.2 2989,2392.3 2989.8,2428.3 2990.6,2383.7 2991.4,2339.5 2992.2,2423.9 2993,2425.3 2993.8,2362.1 2994.6,2375 2995.4,2433.5 2996.2,2553.4 2997,2440.3 2997.8,2428.6 2998.6,2399.2 2999.4,2403 3000.2,2443.7 3001,2386.8 3001.8,2394.3 3002.6,2399.1 3003.4,2407.1 3004.2,2427.6 3005,2360.4 3005.8,2496.2 3006.6,2436.5 3007.4,2476.5 3008.2,2401.2 3009,2460.3 3009.8,2412.8 3010.6,2407.1 3011.4,2349.3 3012.2,2364.5 3013,2374.3 3013.8,2413 3014.6,2595.5 3015.4,2394.9 3016.3,2406.6 3017.1,2402.3 3017.9,2518.7 3018.7,2349.3 3019.5,2405.3 3020.3,2421.1 3021.1,2450.1 3021.9,2392.5 3022.7,2415 3023.5,2427.4 3024.3,2359.3 3025.1,2450.2 3025.9,2364.3 3026.7,2441.1 3027.5,2377 3028.3,2428.1 3029.1,2430.8 3029.9,2386.9 3030.7,2343.2 3031.5,2408.2 3032.3,2398.5 3033.1,2465.9 3033.9,2366.4 3034.7,2338.9 3035.5,2428" fill="none" stroke="#0a0af5" stroke-width="2.7" stroke-linejoin="round" stroke-miterlimit="20" clip-path="url(#c12)"/>
<rect x="498.5" y="34.5" width="1083" height="729" fill="none" stroke="#000" stroke-width="3"/>
<rect x="498.5" y="970.5" width="1083" height="729" fill="none" stroke="#000" stroke-width="3"/>
<rect x="498.5" y="1906.5" width="1083" height="729" fill="none" stroke="#000" stroke-width="3"/>
<rect x="1953.5" y="34.5" width="1082" height="729" fill="none" stroke="#000" stroke-width="3"/>
<rect x="1953.5" y="970.5" width="1082" height="729" fill="none" stroke="#000" stroke-width="3"/>
<rect x="1953.5" y="1906.5" width="1082" height="729" fill="none" stroke="#000" stroke-width="3"/>
<path d="M653.2 763.5V749.5M807.9 763.5V749.5M962.6 763.5V749.5M1117.4 763.5V749.5M1272.1 763.5V749.5M1426.8 763.5V749.5M498.5 617.7H512.5M498.5 471.9H512.5M498.5 326.1H512.5M498.5 180.3H512.5" stroke="#000" stroke-width="3" fill="none"/>
<text x="450.6" y="779.9" textLength="28" lengthAdjust="spacingAndGlyphs" font-size="50" fill="#000">0</text>
<text x="409.6" y="634.1" textLength="70" lengthAdjust="spacingAndGlyphs" font-size="50" fill="#000">0.2</text>
<text x="407.4" y="488.3" textLength="70" lengthAdjust="spacingAndGlyphs" font-size="50" fill="#000">0.4</text>
<text x="408.2" y="342.5" textLength="70" lengthAdjust="spacingAndGlyphs" font-size="50" fill="#000">0.6</text>
<text x="408.6" y="196.7" textLength="70" lengthAdjust="spacingAndGlyphs" font-size="50" fill="#000">0.8</text>
<text x="408.6" y="50.9" textLength="70" lengthAdjust="spacingAndGlyphs" font-size="50" fill="#000">1.0</text>
<text x="483.7" y="817.8" textLength="28" lengthAdjust="spacingAndGlyphs" font-size="50" fill="#000">0</text>
<text x="618" y="817.8" textLength="70" lengthAdjust="spacingAndGlyphs" font-size="50" fill="#000">0.1</text>
<text x="772.6" y="817.8" textLength="70" lengthAdjust="spacingAndGlyphs" font-size="50" fill="#000">0.2</text>
<text x="926.9" y="817.8" textLength="70" lengthAdjust="spacingAndGlyphs" font-size="50" fill="#000">0.3</text>
<text x="1080.9" y="817.8" textLength="70" lengthAdjust="spacingAndGlyphs" font-size="50" fill="#000">0.4</text>
<text x="1236.3" y="817.8" textLength="70" lengthAdjust="spacingAndGlyphs" font-size="50" fill="#000">0.5</text>
<text x="1390.8" y="817.8" textLength="70" lengthAdjust="spacingAndGlyphs" font-size="50" fill="#000">0.6</text>
<text x="1545.4" y="817.8" textLength="70" lengthAdjust="spacingAndGlyphs" font-size="50" fill="#000">0.7</text>
<text x="930.3" y="892.3" textLength="219.9" lengthAdjust="spacingAndGlyphs" font-size="50" fill="#000">Time/ms</text>
<text transform="translate(360.9 524.4) rotate(-90)" x="-0.7" y="0" textLength="253.5" lengthAdjust="spacingAndGlyphs" font-size="50">Voltage/V</text>
<path d="M653.2 1699.5V1685.5M807.9 1699.5V1685.5M962.6 1699.5V1685.5M1117.4 1699.5V1685.5M1272.1 1699.5V1685.5M1426.8 1699.5V1685.5M498.5 1456.5H512.5M498.5 1213.5H512.5" stroke="#000" stroke-width="3" fill="none"/>
<text x="450.6" y="1715.9" textLength="28" lengthAdjust="spacingAndGlyphs" font-size="50" fill="#000">0</text>
<text x="450.7" y="1472.9" textLength="28" lengthAdjust="spacingAndGlyphs" font-size="50" fill="#000">5</text>
<text x="422.6" y="1229.9" textLength="56" lengthAdjust="spacingAndGlyphs" font-size="50" fill="#000">10</text>
<text x="422.7" y="986.9" textLength="56" lengthAdjust="spacingAndGlyphs" font-size="50" fill="#000">15</text>
<text x="483.7" y="1753.8" textLength="28" lengthAdjust="spacingAndGlyphs" font-size="50" fill="#000">0</text>
<text x="618" y="1753.8" textLength="70" lengthAdjust="spacingAndGlyphs" font-size="50" fill="#000">0.1</text>
<text x="772.6" y="1753.8" textLength="70" lengthAdjust="spacingAndGlyphs" font-size="50" fill="#000">0.2</text>
<text x="926.9" y="1753.8" textLength="70" lengthAdjust="spacingAndGlyphs" font-size="50" fill="#000">0.3</text>
<text x="1080.9" y="1753.8" textLength="70" lengthAdjust="spacingAndGlyphs" font-size="50" fill="#000">0.4</text>
<text x="1236.3" y="1753.8" textLength="70" lengthAdjust="spacingAndGlyphs" font-size="50" fill="#000">0.5</text>
<text x="1390.8" y="1753.8" textLength="70" lengthAdjust="spacingAndGlyphs" font-size="50" fill="#000">0.6</text>
<text x="1545.4" y="1753.8" textLength="70" lengthAdjust="spacingAndGlyphs" font-size="50" fill="#000">0.7</text>
<text x="930.3" y="1828.3" textLength="219.9" lengthAdjust="spacingAndGlyphs" font-size="50" fill="#000">Time/ms</text>
<text transform="translate(378 1525.9) rotate(-90)" x="-1.7" y="0" textLength="387.5" lengthAdjust="spacingAndGlyphs" font-size="50">Frequency/MHz</text>
<path d="M859.5 2635.5V2621.5M1220.5 2635.5V2621.5M498.5 2514H512.5M498.5 2392.5H512.5M498.5 2271H512.5M498.5 2149.5H512.5M498.5 2028H512.5" stroke="#000" stroke-width="3" fill="none"/>
<text x="394.6" y="2651.9" textLength="84" lengthAdjust="spacingAndGlyphs" font-size="50" fill="#000">130</text>
<text x="351.7" y="2653.9" textLength="38.2" lengthAdjust="spacingAndGlyphs" font-size="50" fill="#000">−</text>
<text x="394.6" y="2530.4" textLength="84" lengthAdjust="spacingAndGlyphs" font-size="50" fill="#000">120</text>
<text x="351.7" y="2532.4" textLength="38.2" lengthAdjust="spacingAndGlyphs" font-size="50" fill="#000">−</text>
<text x="394.6" y="2408.9" textLength="84" lengthAdjust="spacingAndGlyphs" font-size="50" fill="#000">110</text>
<text x="351.7" y="2410.9" textLength="38.2" lengthAdjust="spacingAndGlyphs" font-size="50" fill="#000">−</text>
<text x="394.6" y="2287.4" textLength="84" lengthAdjust="spacingAndGlyphs" font-size="50" fill="#000">100</text>
<text x="351.7" y="2289.4" textLength="38.2" lengthAdjust="spacingAndGlyphs" font-size="50" fill="#000">−</text>
<text x="422.6" y="2165.9" textLength="56" lengthAdjust="spacingAndGlyphs" font-size="50" fill="#000">90</text>
<text x="378.6" y="2167.9" textLength="38.2" lengthAdjust="spacingAndGlyphs" font-size="50" fill="#000">−</text>
<text x="422.6" y="2044.4" textLength="56" lengthAdjust="spacingAndGlyphs" font-size="50" fill="#000">80</text>
<text x="378.9" y="2046.4" textLength="38.2" lengthAdjust="spacingAndGlyphs" font-size="50" fill="#000">−</text>
<text x="422.6" y="1922.9" textLength="56" lengthAdjust="spacingAndGlyphs" font-size="50" fill="#000">70</text>
<text x="380.5" y="1924.9" textLength="38.2" lengthAdjust="spacingAndGlyphs" font-size="50" fill="#000">−</text>
<text x="483.7" y="2689.8" textLength="28" lengthAdjust="spacingAndGlyphs" font-size="50" fill="#000">0</text>
<text x="844.2" y="2689.8" textLength="28" lengthAdjust="spacingAndGlyphs" font-size="50" fill="#000">5</text>
<text x="1190.3" y="2689.8" textLength="56" lengthAdjust="spacingAndGlyphs" font-size="50" fill="#000">10</text>
<text x="1551.3" y="2689.8" textLength="56" lengthAdjust="spacingAndGlyphs" font-size="50" fill="#000">15</text>
<text x="845.2" y="2764.6" textLength="389.6" lengthAdjust="spacingAndGlyphs" font-size="50" fill="#000">Frequency/MHz</text>
<text transform="translate(315.8 2411.5) rotate(-90)" x="-1.7" y="0" textLength="286.5" lengthAdjust="spacingAndGlyphs" font-size="50">Power/dBm</text>
<path d="M2108.1 763.5V749.5M2262.6 763.5V749.5M2417.2 763.5V749.5M2571.8 763.5V749.5M2726.4 763.5V749.5M2880.9 763.5V749.5M1953.5 617.7H1967.5M1953.5 471.9H1967.5M1953.5 326.1H1967.5M1953.5 180.3H1967.5" stroke="#000" stroke-width="3" fill="none"/>
<text x="1905.6" y="779.9" textLength="28" lengthAdjust="spacingAndGlyphs" font-size="50" fill="#000">0</text>
<text x="1864.6" y="634.1" textLength="70" lengthAdjust="spacingAndGlyphs" font-size="50" fill="#000">0.2</text>
<text x="1862.4" y="488.3" textLength="70" lengthAdjust="spacingAndGlyphs" font-size="50" fill="#000">0.4</text>
<text x="1863.2" y="342.5" textLength="70" lengthAdjust="spacingAndGlyphs" font-size="50" fill="#000">0.6</text>
<text x="1863.6" y="196.7" textLength="70" lengthAdjust="spacingAndGlyphs" font-size="50" fill="#000">0.8</text>
<text x="1863.6" y="50.9" textLength="70" lengthAdjust="spacingAndGlyphs" font-size="50" fill="#000">1.0</text>
<text x="1938.7" y="817.8" textLength="28" lengthAdjust="spacingAndGlyphs" font-size="50" fill="#000">0</text>
<text x="2072.9" y="817.8" textLength="70" lengthAdjust="spacingAndGlyphs" font-size="50" fill="#000">0.1</text>
<text x="2227.3" y="817.8" textLength="70" lengthAdjust="spacingAndGlyphs" font-size="50" fill="#000">0.2</text>
<text x="2381.4" y="817.8" textLength="70" lengthAdjust="spacingAndGlyphs" font-size="50" fill="#000">0.3</text>
<text x="2535.4" y="817.8" textLength="70" lengthAdjust="spacingAndGlyphs" font-size="50" fill="#000">0.4</text>
<text x="2690.6" y="817.8" textLength="70" lengthAdjust="spacingAndGlyphs" font-size="50" fill="#000">0.5</text>
<text x="2844.9" y="817.8" textLength="70" lengthAdjust="spacingAndGlyphs" font-size="50" fill="#000">0.6</text>
<text x="2999.4" y="817.8" textLength="70" lengthAdjust="spacingAndGlyphs" font-size="50" fill="#000">0.7</text>
<text x="2385.3" y="892.3" textLength="219.9" lengthAdjust="spacingAndGlyphs" font-size="50" fill="#000">Time/ms</text>
<text transform="translate(1815.9 524.4) rotate(-90)" x="-0.7" y="0" textLength="253.5" lengthAdjust="spacingAndGlyphs" font-size="50">Voltage/V</text>
<path d="M2108.1 1699.5V1685.5M2262.6 1699.5V1685.5M2417.2 1699.5V1685.5M2571.8 1699.5V1685.5M2726.4 1699.5V1685.5M2880.9 1699.5V1685.5M1953.5 1456.5H1967.5M1953.5 1213.5H1967.5" stroke="#000" stroke-width="3" fill="none"/>
<text x="1905.6" y="1715.9" textLength="28" lengthAdjust="spacingAndGlyphs" font-size="50" fill="#000">0</text>
<text x="1905.7" y="1472.9" textLength="28" lengthAdjust="spacingAndGlyphs" font-size="50" fill="#000">5</text>
<text x="1877.6" y="1229.9" textLength="56" lengthAdjust="spacingAndGlyphs" font-size="50" fill="#000">10</text>
<text x="1877.7" y="986.9" textLength="56" lengthAdjust="spacingAndGlyphs" font-size="50" fill="#000">15</text>
<text x="1938.7" y="1753.8" textLength="28" lengthAdjust="spacingAndGlyphs" font-size="50" fill="#000">0</text>
<text x="2072.9" y="1753.8" textLength="70" lengthAdjust="spacingAndGlyphs" font-size="50" fill="#000">0.1</text>
<text x="2227.3" y="1753.8" textLength="70" lengthAdjust="spacingAndGlyphs" font-size="50" fill="#000">0.2</text>
<text x="2381.4" y="1753.8" textLength="70" lengthAdjust="spacingAndGlyphs" font-size="50" fill="#000">0.3</text>
<text x="2535.4" y="1753.8" textLength="70" lengthAdjust="spacingAndGlyphs" font-size="50" fill="#000">0.4</text>
<text x="2690.6" y="1753.8" textLength="70" lengthAdjust="spacingAndGlyphs" font-size="50" fill="#000">0.5</text>
<text x="2844.9" y="1753.8" textLength="70" lengthAdjust="spacingAndGlyphs" font-size="50" fill="#000">0.6</text>
<text x="2999.4" y="1753.8" textLength="70" lengthAdjust="spacingAndGlyphs" font-size="50" fill="#000">0.7</text>
<text x="2385.3" y="1828.3" textLength="219.9" lengthAdjust="spacingAndGlyphs" font-size="50" fill="#000">Time/ms</text>
<text transform="translate(1833 1525.9) rotate(-90)" x="-1.7" y="0" textLength="387.5" lengthAdjust="spacingAndGlyphs" font-size="50">Frequency/MHz</text>
<path d="M2314.2 2635.5V2621.5M2674.8 2635.5V2621.5M1953.5 2514H1967.5M1953.5 2392.5H1967.5M1953.5 2271H1967.5M1953.5 2149.5H1967.5M1953.5 2028H1967.5" stroke="#000" stroke-width="3" fill="none"/>
<text x="1849.6" y="2651.9" textLength="84" lengthAdjust="spacingAndGlyphs" font-size="50" fill="#000">130</text>
<text x="1806.7" y="2653.9" textLength="38.2" lengthAdjust="spacingAndGlyphs" font-size="50" fill="#000">−</text>
<text x="1849.6" y="2530.4" textLength="84" lengthAdjust="spacingAndGlyphs" font-size="50" fill="#000">120</text>
<text x="1806.7" y="2532.4" textLength="38.2" lengthAdjust="spacingAndGlyphs" font-size="50" fill="#000">−</text>
<text x="1849.6" y="2408.9" textLength="84" lengthAdjust="spacingAndGlyphs" font-size="50" fill="#000">110</text>
<text x="1806.7" y="2410.9" textLength="38.2" lengthAdjust="spacingAndGlyphs" font-size="50" fill="#000">−</text>
<text x="1849.6" y="2287.4" textLength="84" lengthAdjust="spacingAndGlyphs" font-size="50" fill="#000">100</text>
<text x="1806.7" y="2289.4" textLength="38.2" lengthAdjust="spacingAndGlyphs" font-size="50" fill="#000">−</text>
<text x="1877.6" y="2165.9" textLength="56" lengthAdjust="spacingAndGlyphs" font-size="50" fill="#000">90</text>
<text x="1833.6" y="2167.9" textLength="38.2" lengthAdjust="spacingAndGlyphs" font-size="50" fill="#000">−</text>
<text x="1877.6" y="2044.4" textLength="56" lengthAdjust="spacingAndGlyphs" font-size="50" fill="#000">80</text>
<text x="1833.9" y="2046.4" textLength="38.2" lengthAdjust="spacingAndGlyphs" font-size="50" fill="#000">−</text>
<text x="1877.6" y="1922.9" textLength="56" lengthAdjust="spacingAndGlyphs" font-size="50" fill="#000">70</text>
<text x="1835.5" y="1924.9" textLength="38.2" lengthAdjust="spacingAndGlyphs" font-size="50" fill="#000">−</text>
<text x="1938.7" y="2689.8" textLength="28" lengthAdjust="spacingAndGlyphs" font-size="50" fill="#000">0</text>
<text x="2298.8" y="2689.8" textLength="28" lengthAdjust="spacingAndGlyphs" font-size="50" fill="#000">5</text>
<text x="2644.6" y="2689.8" textLength="56" lengthAdjust="spacingAndGlyphs" font-size="50" fill="#000">10</text>
<text x="3005.3" y="2689.8" textLength="56" lengthAdjust="spacingAndGlyphs" font-size="50" fill="#000">15</text>
<text x="2300.2" y="2764.6" textLength="389.6" lengthAdjust="spacingAndGlyphs" font-size="50" fill="#000">Frequency/MHz</text>
<text transform="translate(1770.8 2411.5) rotate(-90)" x="-1.7" y="0" textLength="286.5" lengthAdjust="spacingAndGlyphs" font-size="50">Power/dBm</text>
<path d="M663.7,704 Q683.7,692 715.2,684 Q709.7,695 704.7,698.5 L1021.9,698.5 Q1016.9,695 1011.4,684 Q1042.9,692 1062.9,704 Q1042.9,716 1011.4,724 Q1016.9,713 1021.9,709.5 L704.7,709.5 Q709.7,713 715.2,724 Q683.7,716 663.7,704 Z" fill="#ff0000"/>
<path d="M2042.3,689.9 Q2062.3,677.9 2093.8,669.9 Q2088.3,680.9 2083.3,684.4 L2382,684.4 Q2377,680.9 2371.5,669.9 Q2403,677.9 2423,689.9 Q2403,701.9 2371.5,709.9 Q2377,698.9 2382,695.4 L2083.3,695.4 Q2088.3,698.9 2093.8,709.9 Q2062.3,701.9 2042.3,689.9 Z" fill="#ff0000"/>
<text x="749.1" y="673.3" textLength="35.7" lengthAdjust="spacingAndGlyphs" font-size="50" fill="#f00000" font-style="italic">T</text>
<text x="796.4" y="678.3" textLength="40.4" lengthAdjust="spacingAndGlyphs" font-size="50" fill="#f00000">=</text>
<text x="850.3" y="673.3" textLength="97.6" lengthAdjust="spacingAndGlyphs" font-size="50" fill="#f00000">0.25</text>
<text x="969.3" y="673.3" textLength="65.1" lengthAdjust="spacingAndGlyphs" font-size="50" fill="#f00000">ms</text>
<text x="2112.4" y="659" textLength="35.7" lengthAdjust="spacingAndGlyphs" font-size="50" fill="#f00000" font-style="italic">T</text>
<text x="2159.7" y="664" textLength="40.4" lengthAdjust="spacingAndGlyphs" font-size="50" fill="#f00000">=</text>
<text x="2213.6" y="659" textLength="97.6" lengthAdjust="spacingAndGlyphs" font-size="50" fill="#f00000">0.25</text>
<text x="2332.6" y="659" textLength="65.1" lengthAdjust="spacingAndGlyphs" font-size="50" fill="#f00000">ms</text>
<text x="519.4" y="98.3" textLength="65.2" lengthAdjust="spacingAndGlyphs" font-size="50" fill="#000">(a)</text>
<text x="517.6" y="1034.3" textLength="69.5" lengthAdjust="spacingAndGlyphs" font-size="50" fill="#000">(b)</text>
<text x="519.5" y="1970.3" textLength="65.3" lengthAdjust="spacingAndGlyphs" font-size="50" fill="#000">(c)</text>
<text x="2072.4" y="98.3" textLength="67.7" lengthAdjust="spacingAndGlyphs" font-size="50" fill="#000">(d)</text>
<text x="2074.6" y="1034.3" textLength="66.1" lengthAdjust="spacingAndGlyphs" font-size="50" fill="#000">(e)</text>
<text x="2004.7" y="1970.3" textLength="58.7" lengthAdjust="spacingAndGlyphs" font-size="50" fill="#000">(f)</text>
</svg></body></html>
